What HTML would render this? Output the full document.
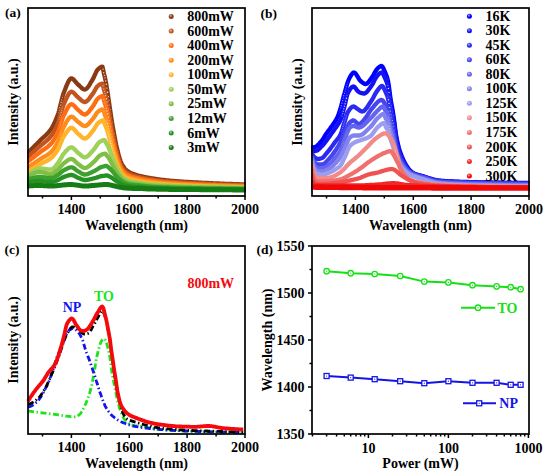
<!DOCTYPE html>
<html><head><meta charset="utf-8"><style>
html,body{margin:0;padding:0;background:#fff;}
svg{display:block;}
text{font-family:'Liberation Serif',serif;font-weight:bold;font-size:14px;fill:#000;}
</style></head><body>
<svg width="550" height="475" viewBox="0 0 550 475">
<defs>

<radialGradient id="g0" cx="0.4" cy="0.35" r="0.65"><stop offset="0" stop-color="#d0b0a0"/><stop offset="0.6" stop-color="#8a3a12"/><stop offset="1" stop-color="#8a3a12"/></radialGradient>
<radialGradient id="g1" cx="0.4" cy="0.35" r="0.65"><stop offset="0" stop-color="#e6baa5"/><stop offset="0.6" stop-color="#c25420"/><stop offset="1" stop-color="#c25420"/></radialGradient>
<radialGradient id="g2" cx="0.4" cy="0.35" r="0.65"><stop offset="0" stop-color="#ffc4a0"/><stop offset="0.6" stop-color="#ff6d12"/><stop offset="1" stop-color="#ff6d12"/></radialGradient>
<radialGradient id="g3" cx="0.4" cy="0.35" r="0.65"><stop offset="0" stop-color="#ffd1a3"/><stop offset="0.6" stop-color="#ff8c1a"/><stop offset="1" stop-color="#ff8c1a"/></radialGradient>
<radialGradient id="g4" cx="0.4" cy="0.35" r="0.65"><stop offset="0" stop-color="#ffe1a9"/><stop offset="0.6" stop-color="#ffb42a"/><stop offset="1" stop-color="#ffb42a"/></radialGradient>
<radialGradient id="g5" cx="0.4" cy="0.35" r="0.65"><stop offset="0" stop-color="#d8ecbd"/><stop offset="0.6" stop-color="#9fd05a"/><stop offset="1" stop-color="#9fd05a"/></radialGradient>
<radialGradient id="g6" cx="0.4" cy="0.35" r="0.65"><stop offset="0" stop-color="#cbe5b4"/><stop offset="0.6" stop-color="#7fbf44"/><stop offset="1" stop-color="#7fbf44"/></radialGradient>
<radialGradient id="g7" cx="0.4" cy="0.35" r="0.65"><stop offset="0" stop-color="#b1d9ab"/><stop offset="0.6" stop-color="#3ea02e"/><stop offset="1" stop-color="#3ea02e"/></radialGradient>
<radialGradient id="g8" cx="0.4" cy="0.35" r="0.65"><stop offset="0" stop-color="#a7d3a6"/><stop offset="0.6" stop-color="#259222"/><stop offset="1" stop-color="#259222"/></radialGradient>
<radialGradient id="g9" cx="0.4" cy="0.35" r="0.65"><stop offset="0" stop-color="#a1caa1"/><stop offset="0.6" stop-color="#167c16"/><stop offset="1" stop-color="#167c16"/></radialGradient>
<radialGradient id="g10" cx="0.4" cy="0.35" r="0.65"><stop offset="0" stop-color="#9999ff"/><stop offset="0.6" stop-color="#0000ff"/><stop offset="1" stop-color="#0000ff"/></radialGradient>
<radialGradient id="g11" cx="0.4" cy="0.35" r="0.65"><stop offset="0" stop-color="#a0a0fa"/><stop offset="0.6" stop-color="#1212f4"/><stop offset="1" stop-color="#1212f4"/></radialGradient>
<radialGradient id="g12" cx="0.4" cy="0.35" r="0.65"><stop offset="0" stop-color="#a9a9f9"/><stop offset="0.6" stop-color="#2a2af2"/><stop offset="1" stop-color="#2a2af2"/></radialGradient>
<radialGradient id="g13" cx="0.4" cy="0.35" r="0.65"><stop offset="0" stop-color="#b4b4f9"/><stop offset="0.6" stop-color="#4545f0"/><stop offset="1" stop-color="#4545f0"/></radialGradient>
<radialGradient id="g14" cx="0.4" cy="0.35" r="0.65"><stop offset="0" stop-color="#c1c1f8"/><stop offset="0.6" stop-color="#6464ee"/><stop offset="1" stop-color="#6464ee"/></radialGradient>
<radialGradient id="g15" cx="0.4" cy="0.35" r="0.65"><stop offset="0" stop-color="#cdcdf8"/><stop offset="0.6" stop-color="#8282ee"/><stop offset="1" stop-color="#8282ee"/></radialGradient>
<radialGradient id="g16" cx="0.4" cy="0.35" r="0.65"><stop offset="0" stop-color="#d7d7f9"/><stop offset="0.6" stop-color="#9c9cf0"/><stop offset="1" stop-color="#9c9cf0"/></radialGradient>
<radialGradient id="g17" cx="0.4" cy="0.35" r="0.65"><stop offset="0" stop-color="#f9d0d0"/><stop offset="0.6" stop-color="#f28a8a"/><stop offset="1" stop-color="#f28a8a"/></radialGradient>
<radialGradient id="g18" cx="0.4" cy="0.35" r="0.65"><stop offset="0" stop-color="#f9c5c5"/><stop offset="0.6" stop-color="#f07070"/><stop offset="1" stop-color="#f07070"/></radialGradient>
<radialGradient id="g19" cx="0.4" cy="0.35" r="0.65"><stop offset="0" stop-color="#f9b9b9"/><stop offset="0.6" stop-color="#f05252"/><stop offset="1" stop-color="#f05252"/></radialGradient>
<radialGradient id="g20" cx="0.4" cy="0.35" r="0.65"><stop offset="0" stop-color="#f9a9a9"/><stop offset="0.6" stop-color="#f02828"/><stop offset="1" stop-color="#f02828"/></radialGradient>
<radialGradient id="g21" cx="0.4" cy="0.35" r="0.65"><stop offset="0" stop-color="#f99c9c"/><stop offset="0.6" stop-color="#f00808"/><stop offset="1" stop-color="#f00808"/></radialGradient>
<clipPath id="ca"><rect x="27" y="8" width="219" height="188"/></clipPath>
<clipPath id="cb"><rect x="311" y="8" width="219" height="188"/></clipPath>
</defs>
<g clip-path="url(#ca)">
<path d="M28.0,152.6L28.7,151.9L29.4,151.2L30.2,150.5L30.9,149.7L31.6,149.0L32.3,148.3L33.1,147.6L33.8,146.8L34.5,146.1L35.2,145.4L36.0,144.7L36.7,143.9L37.4,143.2L38.1,142.5L38.9,141.7L39.6,141.0L40.3,140.3L41.0,139.6L41.7,138.9L42.5,138.2L43.2,137.6L43.9,136.9L44.6,136.3L45.4,135.6L46.1,134.9L46.8,134.2L47.5,133.5L48.3,132.7L49.0,131.8L49.7,130.9L50.4,130.0L51.1,129.0L51.9,127.9L52.6,126.7L53.3,125.3L54.0,123.9L54.8,122.3L55.5,120.7L56.2,118.9L56.9,117.1L57.7,115.2L58.4,113.1L59.1,110.6L59.8,107.8L60.5,104.8L61.3,101.7L62.0,98.8L62.7,96.1L63.4,93.8L64.2,91.8L64.9,90.0L65.6,88.1L66.3,86.2L67.1,84.4L67.8,82.8L68.5,81.4L69.2,80.1L70.0,79.2L70.7,78.6L71.4,78.4L72.1,78.5L72.8,78.9L73.6,79.5L74.3,80.3L75.0,81.1L75.7,82.0L76.5,82.9L77.2,83.7L77.9,84.4L78.6,85.0L79.4,85.7L80.1,86.4L80.8,87.1L81.5,87.8L82.2,88.4L83.0,88.9L83.7,89.3L84.4,89.5L85.1,89.4L85.9,89.2L86.6,88.6L87.3,87.9L88.0,87.0L88.8,85.9L89.5,84.8L90.2,83.6L90.9,82.3L91.7,81.1L92.4,79.9L93.1,78.7L93.8,77.3L94.5,75.7L95.3,74.0L96.0,72.4L96.7,71.0L97.4,69.9L98.2,69.2L98.9,68.5L99.6,67.9L100.3,67.3L101.1,66.9L101.8,66.7L102.5,66.7L103.2,69.9L104.0,73.7L104.7,76.6L105.4,79.7L106.1,83.2L106.8,87.5L107.6,92.3L108.3,97.2L109.0,102.0L109.7,107.0L110.5,112.0L111.2,117.0L111.9,121.6L112.6,126.0L113.4,130.1L114.1,134.0L114.8,137.8L115.5,141.5L116.2,145.0L117.0,148.3L117.7,151.3L118.4,154.1L119.1,156.7L119.9,159.2L120.6,161.3L121.3,162.9L122.0,164.3L122.8,165.6L123.5,166.8L124.2,167.8L124.9,168.8L125.7,169.5L126.4,170.2L127.1,170.7L127.8,171.2L128.5,171.7L129.3,172.1L130.0,172.5L130.7,172.9L131.4,173.2L132.2,173.5L132.9,173.8L133.6,174.1L134.3,174.4L135.1,174.6L135.8,174.8L136.5,175.0L137.2,175.3L137.9,175.5L138.7,175.7L139.4,175.8L140.1,176.0L140.8,176.2L141.6,176.4L142.3,176.5L143.0,176.7L143.7,176.8L144.5,177.0L145.2,177.1L145.9,177.3L146.6,177.4L147.3,177.5L148.1,177.7L148.8,177.8L149.5,177.9L150.2,178.0L151.0,178.2L151.7,178.3L152.4,178.4L153.1,178.5L153.9,178.6L154.6,178.7L155.3,178.9L156.0,179.0L156.8,179.1L157.5,179.2L158.2,179.3L158.9,179.4L159.6,179.5L160.4,179.6L161.1,179.7L161.8,179.8L162.5,179.9L163.3,179.9L164.0,180.0L164.7,180.1L165.4,180.2L166.2,180.3L166.9,180.4L167.6,180.4L168.3,180.5L169.1,180.6L169.8,180.6L170.5,180.7L171.2,180.8L171.9,180.8L172.7,180.9L173.4,181.0L174.1,181.0L174.8,181.1L175.6,181.1L176.3,181.2L177.0,181.2L177.7,181.3L178.5,181.4L179.2,181.4L179.9,181.5L180.6,181.5L181.3,181.6L182.1,181.6L182.8,181.7L183.5,181.7L184.2,181.8L185.0,181.8L185.7,181.8L186.4,181.9L187.1,181.9L187.9,182.0L188.6,182.0L189.3,182.1L190.0,182.1L190.8,182.1L191.5,182.2L192.2,182.2L192.9,182.3L193.6,182.3L194.4,182.3L195.1,182.4L195.8,182.4L196.5,182.5L197.3,182.5L198.0,182.5L198.7,182.6L199.4,182.6L200.2,182.6L200.9,182.7L201.6,182.7L202.3,182.8L203.0,182.8L203.8,182.8L204.5,182.9L205.2,182.9L205.9,182.9L206.7,183.0L207.4,183.0L208.1,183.0L208.8,183.1L209.6,183.1L210.3,183.1L211.0,183.2L211.7,183.2L212.4,183.2L213.2,183.3L213.9,183.3L214.6,183.3L215.3,183.4L216.1,183.4L216.8,183.4L217.5,183.5L218.2,183.5L219.0,183.5L219.7,183.6L220.4,183.6L221.1,183.6L221.9,183.6L222.6,183.7L223.3,183.7L224.0,183.7L224.7,183.8L225.5,183.8L226.2,183.8L226.9,183.8L227.6,183.9L228.4,183.9L229.1,183.9L229.8,184.0L230.5,184.0L231.3,184.0L232.0,184.0L232.7,184.1L233.4,184.1L234.2,184.1L234.9,184.1L235.6,184.1L236.3,184.2L237.0,184.2L237.8,184.2L238.5,184.2L239.2,184.3L239.9,184.3L240.7,184.3L241.4,184.3L242.1,184.3L242.8,184.3L243.6,184.4L244.3,184.4L245.0,184.4" fill="none" stroke="#8a3a12" stroke-width="4.3" stroke-linejoin="round" stroke-linecap="round"/>
<g fill="#fff"><circle cx="56.6" cy="117.9" r="0.70" fill-opacity="0.00"/><circle cx="57.3" cy="116.2" r="0.70" fill-opacity="0.05"/><circle cx="57.9" cy="114.5" r="0.70" fill-opacity="0.09"/><circle cx="58.6" cy="112.5" r="0.70" fill-opacity="0.28"/><circle cx="59.2" cy="110.3" r="0.70" fill-opacity="0.50"/><circle cx="59.8" cy="107.8" r="0.70" fill-opacity="0.66"/><circle cx="60.5" cy="105.1" r="0.70" fill-opacity="0.75"/><circle cx="61.1" cy="102.5" r="0.70" fill-opacity="0.74"/><circle cx="61.7" cy="99.9" r="0.70" fill-opacity="0.64"/><circle cx="62.4" cy="97.4" r="0.70" fill-opacity="0.48"/><circle cx="63.0" cy="95.1" r="0.70" fill-opacity="0.26"/><circle cx="63.6" cy="93.2" r="0.70" fill-opacity="0.05"/><circle cx="64.3" cy="91.5" r="0.70" fill-opacity="0.05"/><circle cx="64.9" cy="89.9" r="0.70" fill-opacity="0.05"/><circle cx="65.6" cy="88.2" r="0.70" fill-opacity="0.04"/><circle cx="66.2" cy="86.6" r="0.70" fill-opacity="0.00"/><circle cx="103.1" cy="69.2" r="0.70" fill-opacity="0.68"/><circle cx="103.7" cy="72.8" r="0.70" fill-opacity="0.78"/><circle cx="104.4" cy="75.5" r="0.70" fill-opacity="0.71"/><circle cx="105.0" cy="78.0" r="0.70" fill-opacity="0.71"/><circle cx="105.7" cy="80.9" r="0.70" fill-opacity="0.88"/><circle cx="106.3" cy="84.2" r="0.70" fill-opacity="0.90"/><circle cx="106.9" cy="88.1" r="0.70" fill-opacity="0.90"/><circle cx="107.6" cy="92.3" r="0.70" fill-opacity="0.90"/><circle cx="108.2" cy="96.6" r="0.70" fill-opacity="0.90"/><circle cx="108.8" cy="100.8" r="0.70" fill-opacity="0.90"/><circle cx="109.5" cy="105.1" r="0.70" fill-opacity="0.90"/><circle cx="110.1" cy="109.6" r="0.70" fill-opacity="0.90"/><circle cx="110.7" cy="114.0" r="0.70" fill-opacity="0.90"/><circle cx="111.4" cy="118.3" r="0.70" fill-opacity="0.90"/><circle cx="112.0" cy="122.3" r="0.70" fill-opacity="0.90"/><circle cx="112.7" cy="126.1" r="0.70" fill-opacity="0.90"/><circle cx="113.3" cy="129.8" r="0.70" fill-opacity="0.90"/><circle cx="113.9" cy="133.3" r="0.70" fill-opacity="0.90"/><circle cx="114.6" cy="136.6" r="0.70" fill-opacity="0.90"/><circle cx="115.2" cy="139.9" r="0.70" fill-opacity="0.90"/><circle cx="115.8" cy="143.0" r="0.70" fill-opacity="0.90"/><circle cx="116.5" cy="146.1" r="0.70" fill-opacity="0.90"/><circle cx="117.1" cy="148.9" r="0.70" fill-opacity="0.72"/><circle cx="117.8" cy="151.5" r="0.70" fill-opacity="0.62"/><circle cx="118.4" cy="154.0" r="0.70" fill-opacity="0.56"/><circle cx="119.0" cy="156.3" r="0.70" fill-opacity="0.44"/><circle cx="119.7" cy="158.5" r="0.70" fill-opacity="0.27"/><circle cx="120.3" cy="160.5" r="0.70" fill-opacity="0.05"/></g>
<path d="M28.0,156.7L28.7,156.1L29.4,155.4L30.2,154.8L30.9,154.2L31.6,153.5L32.3,152.9L33.1,152.3L33.8,151.6L34.5,151.0L35.2,150.4L36.0,149.7L36.7,149.1L37.4,148.4L38.1,147.8L38.9,147.1L39.6,146.5L40.3,145.9L41.0,145.3L41.7,144.7L42.5,144.1L43.2,143.5L43.9,142.9L44.6,142.4L45.4,141.8L46.1,141.2L46.8,140.5L47.5,139.9L48.3,139.2L49.0,138.5L49.7,137.7L50.4,136.9L51.1,136.0L51.9,135.0L52.6,134.0L53.3,132.8L54.0,131.5L54.8,130.2L55.5,128.7L56.2,127.2L56.9,125.6L57.7,123.9L58.4,122.1L59.1,119.9L59.8,117.4L60.5,114.8L61.3,112.1L62.0,109.6L62.7,107.2L63.4,105.1L64.2,103.5L64.9,101.8L65.6,100.2L66.3,98.5L67.1,97.0L67.8,95.6L68.5,94.3L69.2,93.2L70.0,92.4L70.7,91.9L71.4,91.7L72.1,91.8L72.8,92.2L73.6,92.7L74.3,93.4L75.0,94.2L75.7,95.0L76.5,95.8L77.2,96.6L77.9,97.3L78.6,97.8L79.4,98.5L80.1,99.1L80.8,99.8L81.5,100.4L82.2,101.0L83.0,101.5L83.7,101.8L84.4,102.0L85.1,102.0L85.9,101.7L86.6,101.3L87.3,100.7L88.0,100.0L88.8,99.1L89.5,98.2L90.2,97.2L90.9,96.2L91.7,95.3L92.4,94.3L93.1,93.3L93.8,92.2L94.5,90.9L95.3,89.6L96.0,88.3L96.7,87.1L97.4,86.2L98.2,85.7L98.9,85.1L99.6,84.6L100.3,84.2L101.1,83.9L101.8,83.7L102.5,83.7L103.2,86.4L104.0,89.7L104.7,92.2L105.4,94.8L106.1,97.8L106.8,101.5L107.6,105.6L108.3,109.8L109.0,113.9L109.7,118.2L110.5,122.5L111.2,126.7L111.9,130.7L112.6,134.4L113.4,138.0L114.1,141.4L114.8,144.6L115.5,147.7L116.2,150.7L117.0,153.6L117.7,156.1L118.4,158.5L119.1,160.8L119.9,162.9L120.6,164.7L121.3,166.1L122.0,167.3L122.8,168.4L123.5,169.4L124.2,170.3L124.9,171.1L125.7,171.8L126.4,172.3L127.1,172.8L127.8,173.2L128.5,173.6L129.3,174.0L130.0,174.3L130.7,174.6L131.4,174.9L132.2,175.2L132.9,175.4L133.6,175.6L134.3,175.9L135.1,176.1L135.8,176.3L136.5,176.5L137.2,176.7L137.9,176.9L138.7,177.1L139.4,177.2L140.1,177.4L140.8,177.6L141.6,177.7L142.3,177.9L143.0,178.0L143.7,178.2L144.5,178.3L145.2,178.4L145.9,178.6L146.6,178.7L147.3,178.8L148.1,178.9L148.8,179.1L149.5,179.2L150.2,179.3L151.0,179.4L151.7,179.5L152.4,179.6L153.1,179.7L153.9,179.8L154.6,179.9L155.3,180.0L156.0,180.2L156.8,180.3L157.5,180.3L158.2,180.4L158.9,180.5L159.6,180.6L160.4,180.7L161.1,180.8L161.8,180.9L162.5,181.0L163.3,181.1L164.0,181.1L164.7,181.2L165.4,181.3L166.2,181.4L166.9,181.4L167.6,181.5L168.3,181.6L169.1,181.6L169.8,181.7L170.5,181.8L171.2,181.8L171.9,181.9L172.7,181.9L173.4,182.0L174.1,182.1L174.8,182.1L175.6,182.2L176.3,182.2L177.0,182.3L177.7,182.3L178.5,182.4L179.2,182.4L179.9,182.5L180.6,182.5L181.3,182.6L182.1,182.6L182.8,182.6L183.5,182.7L184.2,182.7L185.0,182.8L185.7,182.8L186.4,182.9L187.1,182.9L187.9,182.9L188.6,183.0L189.3,183.0L190.0,183.1L190.8,183.1L191.5,183.1L192.2,183.2L192.9,183.2L193.6,183.3L194.4,183.3L195.1,183.3L195.8,183.4L196.5,183.4L197.3,183.4L198.0,183.5L198.7,183.5L199.4,183.5L200.2,183.6L200.9,183.6L201.6,183.6L202.3,183.7L203.0,183.7L203.8,183.7L204.5,183.8L205.2,183.8L205.9,183.8L206.7,183.9L207.4,183.9L208.1,183.9L208.8,184.0L209.6,184.0L210.3,184.0L211.0,184.1L211.7,184.1L212.4,184.1L213.2,184.2L213.9,184.2L214.6,184.2L215.3,184.2L216.1,184.3L216.8,184.3L217.5,184.3L218.2,184.4L219.0,184.4L219.7,184.4L220.4,184.4L221.1,184.5L221.9,184.5L222.6,184.5L223.3,184.6L224.0,184.6L224.7,184.6L225.5,184.6L226.2,184.7L226.9,184.7L227.6,184.7L228.4,184.7L229.1,184.8L229.8,184.8L230.5,184.8L231.3,184.8L232.0,184.9L232.7,184.9L233.4,184.9L234.2,184.9L234.9,184.9L235.6,185.0L236.3,185.0L237.0,185.0L237.8,185.0L238.5,185.0L239.2,185.1L239.9,185.1L240.7,185.1L241.4,185.1L242.1,185.1L242.8,185.2L243.6,185.2L244.3,185.2L245.0,185.2" fill="none" stroke="#c25420" stroke-width="4.3" stroke-linejoin="round" stroke-linecap="round"/>
<g fill="#fff"><circle cx="58.6" cy="121.6" r="0.70" fill-opacity="0.11"/><circle cx="59.2" cy="119.6" r="0.70" fill-opacity="0.30"/><circle cx="59.8" cy="117.4" r="0.70" fill-opacity="0.43"/><circle cx="60.5" cy="115.1" r="0.70" fill-opacity="0.51"/><circle cx="61.1" cy="112.8" r="0.70" fill-opacity="0.51"/><circle cx="61.7" cy="110.5" r="0.70" fill-opacity="0.42"/><circle cx="62.4" cy="108.3" r="0.70" fill-opacity="0.28"/><circle cx="63.0" cy="106.3" r="0.70" fill-opacity="0.09"/><circle cx="103.1" cy="85.8" r="0.70" fill-opacity="0.42"/><circle cx="103.7" cy="88.9" r="0.70" fill-opacity="0.51"/><circle cx="104.4" cy="91.2" r="0.70" fill-opacity="0.44"/><circle cx="105.0" cy="93.4" r="0.70" fill-opacity="0.44"/><circle cx="105.7" cy="95.8" r="0.70" fill-opacity="0.59"/><circle cx="106.3" cy="98.7" r="0.70" fill-opacity="0.90"/><circle cx="106.9" cy="102.0" r="0.70" fill-opacity="0.90"/><circle cx="107.6" cy="105.6" r="0.70" fill-opacity="0.90"/><circle cx="108.2" cy="109.3" r="0.70" fill-opacity="0.90"/><circle cx="108.8" cy="112.9" r="0.70" fill-opacity="0.90"/><circle cx="109.5" cy="116.6" r="0.70" fill-opacity="0.90"/><circle cx="110.1" cy="120.4" r="0.70" fill-opacity="0.90"/><circle cx="110.7" cy="124.2" r="0.70" fill-opacity="0.90"/><circle cx="111.4" cy="127.9" r="0.70" fill-opacity="0.90"/><circle cx="112.0" cy="131.3" r="0.70" fill-opacity="0.90"/><circle cx="112.7" cy="134.6" r="0.70" fill-opacity="0.90"/><circle cx="113.3" cy="137.7" r="0.70" fill-opacity="0.90"/><circle cx="113.9" cy="140.7" r="0.70" fill-opacity="0.90"/><circle cx="114.6" cy="143.6" r="0.70" fill-opacity="0.86"/><circle cx="115.2" cy="146.3" r="0.70" fill-opacity="0.82"/><circle cx="115.8" cy="149.1" r="0.70" fill-opacity="0.74"/><circle cx="116.5" cy="151.7" r="0.70" fill-opacity="0.62"/><circle cx="117.1" cy="154.1" r="0.70" fill-opacity="0.45"/><circle cx="117.8" cy="156.3" r="0.70" fill-opacity="0.36"/><circle cx="118.4" cy="158.4" r="0.70" fill-opacity="0.31"/><circle cx="119.0" cy="160.4" r="0.70" fill-opacity="0.22"/><circle cx="119.7" cy="162.3" r="0.70" fill-opacity="0.07"/></g>
<path d="M28.0,161.5L28.7,160.9L29.4,160.4L30.2,159.8L30.9,159.2L31.6,158.7L32.3,158.1L33.1,157.6L33.8,157.0L34.5,156.4L35.2,155.9L36.0,155.3L36.7,154.8L37.4,154.2L38.1,153.6L38.9,153.1L39.6,152.5L40.3,152.0L41.0,151.4L41.7,150.9L42.5,150.4L43.2,149.9L43.9,149.4L44.6,149.0L45.4,148.5L46.1,147.9L46.8,147.4L47.5,146.9L48.3,146.3L49.0,145.6L49.7,145.0L50.4,144.3L51.1,143.5L51.9,142.7L52.6,141.7L53.3,140.7L54.0,139.6L54.8,138.3L55.5,137.1L56.2,135.7L56.9,134.3L57.7,132.8L58.4,131.2L59.1,129.2L59.8,127.0L60.5,124.7L61.3,122.3L62.0,120.1L62.7,118.0L63.4,116.1L64.2,114.6L64.9,113.2L65.6,111.7L66.3,110.3L67.1,108.9L67.8,107.6L68.5,106.5L69.2,105.5L70.0,104.8L70.7,104.4L71.4,104.2L72.1,104.3L72.8,104.7L73.6,105.2L74.3,105.9L75.0,106.7L75.7,107.5L76.5,108.3L77.2,109.1L77.9,109.8L78.6,110.3L79.4,111.0L80.1,111.6L80.8,112.3L81.5,112.9L82.2,113.5L83.0,114.0L83.7,114.3L84.4,114.5L85.1,114.5L85.9,114.2L86.6,113.8L87.3,113.2L88.0,112.5L88.8,111.7L89.5,110.8L90.2,109.9L90.9,108.9L91.7,107.9L92.4,107.0L93.1,106.0L93.8,105.0L94.5,103.7L95.3,102.4L96.0,101.1L96.7,99.9L97.4,99.0L98.2,98.3L98.9,97.8L99.6,97.3L100.3,96.8L101.1,96.5L101.8,96.2L102.5,96.1L103.2,97.4L104.0,100.5L104.7,102.8L105.4,105.0L106.1,107.5L106.8,110.5L107.6,114.0L108.3,117.7L109.0,121.3L109.7,125.0L110.5,128.8L111.2,132.6L111.9,136.2L112.6,139.6L113.4,142.8L114.1,145.8L114.8,148.7L115.5,151.5L116.2,154.2L117.0,156.8L117.7,159.1L118.4,161.3L119.1,163.3L119.9,165.2L120.6,166.9L121.3,168.3L122.0,169.4L122.8,170.4L123.5,171.4L124.2,172.2L124.9,172.9L125.7,173.5L126.4,174.1L127.1,174.5L127.8,174.9L128.5,175.2L129.3,175.6L130.0,175.9L130.7,176.2L131.4,176.4L132.2,176.7L132.9,176.9L133.6,177.1L134.3,177.3L135.1,177.5L135.8,177.7L136.5,177.9L137.2,178.1L137.9,178.2L138.7,178.4L139.4,178.6L140.1,178.7L140.8,178.9L141.6,179.0L142.3,179.2L143.0,179.3L143.7,179.4L144.5,179.6L145.2,179.7L145.9,179.8L146.6,179.9L147.3,180.1L148.1,180.2L148.8,180.3L149.5,180.4L150.2,180.5L151.0,180.6L151.7,180.7L152.4,180.8L153.1,180.9L153.9,181.0L154.6,181.1L155.3,181.2L156.0,181.3L156.8,181.4L157.5,181.5L158.2,181.6L158.9,181.6L159.6,181.7L160.4,181.8L161.1,181.9L161.8,182.0L162.5,182.0L163.3,182.1L164.0,182.2L164.7,182.3L165.4,182.3L166.2,182.4L166.9,182.5L167.6,182.5L168.3,182.6L169.1,182.7L169.8,182.7L170.5,182.8L171.2,182.8L171.9,182.9L172.7,182.9L173.4,183.0L174.1,183.0L174.8,183.1L175.6,183.1L176.3,183.2L177.0,183.2L177.7,183.3L178.5,183.3L179.2,183.4L179.9,183.4L180.6,183.4L181.3,183.5L182.1,183.5L182.8,183.6L183.5,183.6L184.2,183.7L185.0,183.7L185.7,183.7L186.4,183.8L187.1,183.8L187.9,183.8L188.6,183.9L189.3,183.9L190.0,184.0L190.8,184.0L191.5,184.0L192.2,184.1L192.9,184.1L193.6,184.1L194.4,184.2L195.1,184.2L195.8,184.2L196.5,184.3L197.3,184.3L198.0,184.3L198.7,184.4L199.4,184.4L200.2,184.4L200.9,184.4L201.6,184.5L202.3,184.5L203.0,184.5L203.8,184.6L204.5,184.6L205.2,184.6L205.9,184.7L206.7,184.7L207.4,184.7L208.1,184.7L208.8,184.8L209.6,184.8L210.3,184.8L211.0,184.9L211.7,184.9L212.4,184.9L213.2,184.9L213.9,185.0L214.6,185.0L215.3,185.0L216.1,185.1L216.8,185.1L217.5,185.1L218.2,185.1L219.0,185.2L219.7,185.2L220.4,185.2L221.1,185.2L221.9,185.3L222.6,185.3L223.3,185.3L224.0,185.3L224.7,185.4L225.5,185.4L226.2,185.4L226.9,185.4L227.6,185.5L228.4,185.5L229.1,185.5L229.8,185.5L230.5,185.5L231.3,185.6L232.0,185.6L232.7,185.6L233.4,185.6L234.2,185.6L234.9,185.7L235.6,185.7L236.3,185.7L237.0,185.7L237.8,185.7L238.5,185.8L239.2,185.8L239.9,185.8L240.7,185.8L241.4,185.8L242.1,185.8L242.8,185.9L243.6,185.9L244.3,185.9L245.0,185.9" fill="none" stroke="#ff6d12" stroke-width="4.3" stroke-linejoin="round" stroke-linecap="round"/>
<g fill="#fff"><circle cx="59.2" cy="128.9" r="0.70" fill-opacity="0.14"/><circle cx="59.8" cy="127.0" r="0.70" fill-opacity="0.26"/><circle cx="60.5" cy="125.0" r="0.70" fill-opacity="0.33"/><circle cx="61.1" cy="122.9" r="0.70" fill-opacity="0.32"/><circle cx="61.7" cy="120.9" r="0.70" fill-opacity="0.25"/><circle cx="62.4" cy="118.9" r="0.70" fill-opacity="0.12"/><circle cx="103.7" cy="99.6" r="0.70" fill-opacity="0.51"/><circle cx="104.4" cy="101.9" r="0.70" fill-opacity="0.25"/><circle cx="105.0" cy="103.8" r="0.70" fill-opacity="0.25"/><circle cx="105.7" cy="105.9" r="0.70" fill-opacity="0.30"/><circle cx="106.3" cy="108.2" r="0.70" fill-opacity="0.53"/><circle cx="106.9" cy="110.9" r="0.70" fill-opacity="0.85"/><circle cx="107.6" cy="114.0" r="0.70" fill-opacity="0.90"/><circle cx="108.2" cy="117.2" r="0.70" fill-opacity="0.90"/><circle cx="108.8" cy="120.5" r="0.70" fill-opacity="0.90"/><circle cx="109.5" cy="123.7" r="0.70" fill-opacity="0.90"/><circle cx="110.1" cy="127.0" r="0.70" fill-opacity="0.90"/><circle cx="110.7" cy="130.4" r="0.70" fill-opacity="0.90"/><circle cx="111.4" cy="133.7" r="0.70" fill-opacity="0.90"/><circle cx="112.0" cy="136.8" r="0.70" fill-opacity="0.90"/><circle cx="112.7" cy="139.7" r="0.70" fill-opacity="0.88"/><circle cx="113.3" cy="142.5" r="0.70" fill-opacity="0.80"/><circle cx="113.9" cy="145.2" r="0.70" fill-opacity="0.72"/><circle cx="114.6" cy="147.8" r="0.70" fill-opacity="0.64"/><circle cx="115.2" cy="150.3" r="0.70" fill-opacity="0.60"/><circle cx="115.8" cy="152.7" r="0.70" fill-opacity="0.55"/><circle cx="116.5" cy="155.0" r="0.70" fill-opacity="0.46"/><circle cx="117.1" cy="157.3" r="0.70" fill-opacity="0.33"/><circle cx="117.8" cy="159.3" r="0.70" fill-opacity="0.20"/><circle cx="118.4" cy="161.2" r="0.70" fill-opacity="0.17"/><circle cx="119.0" cy="163.0" r="0.70" fill-opacity="0.10"/></g>
<path d="M28.0,167.5L28.7,167.0L29.4,166.5L30.2,166.0L30.9,165.5L31.6,164.9L32.3,164.4L33.1,163.9L33.8,163.4L34.5,162.9L35.2,162.4L36.0,161.9L36.7,161.5L37.4,161.0L38.1,160.5L38.9,160.0L39.6,159.5L40.3,159.0L41.0,158.6L41.7,158.2L42.5,157.7L43.2,157.3L43.9,156.9L44.6,156.5L45.4,156.1L46.1,155.7L46.8,155.3L47.5,154.8L48.3,154.3L49.0,153.8L49.7,153.3L50.4,152.7L51.1,152.0L51.9,151.3L52.6,150.4L53.3,149.5L54.0,148.5L54.8,147.4L55.5,146.2L56.2,145.0L56.9,143.7L57.7,142.4L58.4,140.9L59.1,139.2L59.8,137.2L60.5,135.1L61.3,133.0L62.0,130.9L62.7,129.1L63.4,127.4L64.2,126.1L64.9,124.8L65.6,123.4L66.3,122.1L67.1,120.9L67.8,119.8L68.5,118.8L69.2,117.9L70.0,117.3L70.7,116.8L71.4,116.7L72.1,116.8L72.8,117.1L73.6,117.6L74.3,118.3L75.0,119.0L75.7,119.7L76.5,120.4L77.2,121.1L77.9,121.7L78.6,122.2L79.4,122.8L80.1,123.4L80.8,124.0L81.5,124.6L82.2,125.1L83.0,125.5L83.7,125.8L84.4,126.0L85.1,126.0L85.9,125.8L86.6,125.4L87.3,124.9L88.0,124.3L88.8,123.6L89.5,122.8L90.2,121.9L90.9,121.1L91.7,120.2L92.4,119.4L93.1,118.5L93.8,117.6L94.5,116.5L95.3,115.4L96.0,114.2L96.7,113.1L97.4,112.2L98.2,111.6L98.9,111.1L99.6,110.6L100.3,110.2L101.1,109.8L101.8,109.6L102.5,109.4L103.2,109.7L104.0,112.1L104.7,114.4L105.4,116.3L106.1,118.2L106.8,120.6L107.6,123.5L108.3,126.6L109.0,129.7L109.7,132.8L110.5,136.1L111.2,139.3L111.9,142.5L112.6,145.5L113.4,148.2L114.1,150.9L114.8,153.4L115.5,155.8L116.2,158.2L117.0,160.4L117.7,162.5L118.4,164.4L119.1,166.2L119.9,167.9L120.6,169.4L121.3,170.7L122.0,171.7L122.8,172.6L123.5,173.4L124.2,174.2L124.9,174.8L125.7,175.4L126.4,175.9L127.1,176.3L127.8,176.6L128.5,177.0L129.3,177.2L130.0,177.5L130.7,177.8L131.4,178.0L132.2,178.2L132.9,178.4L133.6,178.6L134.3,178.8L135.1,178.9L135.8,179.1L136.5,179.3L137.2,179.4L137.9,179.6L138.7,179.8L139.4,179.9L140.1,180.0L140.8,180.2L141.6,180.3L142.3,180.5L143.0,180.6L143.7,180.7L144.5,180.8L145.2,181.0L145.9,181.1L146.6,181.2L147.3,181.3L148.1,181.4L148.8,181.5L149.5,181.6L150.2,181.7L151.0,181.8L151.7,181.9L152.4,182.0L153.1,182.0L153.9,182.1L154.6,182.2L155.3,182.3L156.0,182.4L156.8,182.5L157.5,182.6L158.2,182.6L158.9,182.7L159.6,182.8L160.4,182.9L161.1,182.9L161.8,183.0L162.5,183.1L163.3,183.1L164.0,183.2L164.7,183.3L165.4,183.3L166.2,183.4L166.9,183.4L167.6,183.5L168.3,183.5L169.1,183.6L169.8,183.7L170.5,183.7L171.2,183.7L171.9,183.8L172.7,183.8L173.4,183.9L174.1,183.9L174.8,184.0L175.6,184.0L176.3,184.1L177.0,184.1L177.7,184.1L178.5,184.2L179.2,184.2L179.9,184.3L180.6,184.3L181.3,184.3L182.1,184.4L182.8,184.4L183.5,184.5L184.2,184.5L185.0,184.5L185.7,184.6L186.4,184.6L187.1,184.6L187.9,184.7L188.6,184.7L189.3,184.7L190.0,184.8L190.8,184.8L191.5,184.8L192.2,184.9L192.9,184.9L193.6,184.9L194.4,184.9L195.1,185.0L195.8,185.0L196.5,185.0L197.3,185.1L198.0,185.1L198.7,185.1L199.4,185.1L200.2,185.2L200.9,185.2L201.6,185.2L202.3,185.3L203.0,185.3L203.8,185.3L204.5,185.3L205.2,185.4L205.9,185.4L206.7,185.4L207.4,185.4L208.1,185.5L208.8,185.5L209.6,185.5L210.3,185.5L211.0,185.6L211.7,185.6L212.4,185.6L213.2,185.6L213.9,185.7L214.6,185.7L215.3,185.7L216.1,185.7L216.8,185.8L217.5,185.8L218.2,185.8L219.0,185.8L219.7,185.9L220.4,185.9L221.1,185.9L221.9,185.9L222.6,186.0L223.3,186.0L224.0,186.0L224.7,186.0L225.5,186.0L226.2,186.1L226.9,186.1L227.6,186.1L228.4,186.1L229.1,186.1L229.8,186.2L230.5,186.2L231.3,186.2L232.0,186.2L232.7,186.2L233.4,186.3L234.2,186.3L234.9,186.3L235.6,186.3L236.3,186.3L237.0,186.3L237.8,186.4L238.5,186.4L239.2,186.4L239.9,186.4L240.7,186.4L241.4,186.4L242.1,186.4L242.8,186.5L243.6,186.5L244.3,186.5L245.0,186.5" fill="none" stroke="#ff8c1a" stroke-width="4.3" stroke-linejoin="round" stroke-linecap="round"/>
<g fill="#fff"><circle cx="59.2" cy="138.9" r="0.70" fill-opacity="0.01"/><circle cx="59.8" cy="137.2" r="0.70" fill-opacity="0.12"/><circle cx="60.5" cy="135.3" r="0.70" fill-opacity="0.18"/><circle cx="61.1" cy="133.5" r="0.70" fill-opacity="0.17"/><circle cx="61.7" cy="131.7" r="0.70" fill-opacity="0.11"/><circle cx="103.7" cy="111.3" r="0.70" fill-opacity="0.15"/><circle cx="104.4" cy="113.6" r="0.70" fill-opacity="0.09"/><circle cx="105.0" cy="115.3" r="0.70" fill-opacity="0.06"/><circle cx="105.7" cy="116.9" r="0.70" fill-opacity="0.06"/><circle cx="106.3" cy="118.8" r="0.70" fill-opacity="0.18"/><circle cx="106.9" cy="121.0" r="0.70" fill-opacity="0.44"/><circle cx="107.6" cy="123.5" r="0.70" fill-opacity="0.67"/><circle cx="108.2" cy="126.2" r="0.70" fill-opacity="0.82"/><circle cx="108.8" cy="129.0" r="0.70" fill-opacity="0.83"/><circle cx="109.5" cy="131.7" r="0.70" fill-opacity="0.83"/><circle cx="110.1" cy="134.5" r="0.70" fill-opacity="0.88"/><circle cx="110.7" cy="137.4" r="0.70" fill-opacity="0.90"/><circle cx="111.4" cy="140.3" r="0.70" fill-opacity="0.85"/><circle cx="112.0" cy="143.0" r="0.70" fill-opacity="0.71"/><circle cx="112.7" cy="145.6" r="0.70" fill-opacity="0.61"/><circle cx="113.3" cy="148.0" r="0.70" fill-opacity="0.55"/><circle cx="113.9" cy="150.4" r="0.70" fill-opacity="0.48"/><circle cx="114.6" cy="152.6" r="0.70" fill-opacity="0.41"/><circle cx="115.2" cy="154.8" r="0.70" fill-opacity="0.36"/><circle cx="115.8" cy="156.8" r="0.70" fill-opacity="0.33"/><circle cx="116.5" cy="158.9" r="0.70" fill-opacity="0.27"/><circle cx="117.1" cy="160.8" r="0.70" fill-opacity="0.17"/><circle cx="117.8" cy="162.7" r="0.70" fill-opacity="0.05"/></g>
<path d="M28.0,171.5L28.7,171.0L29.4,170.6L30.2,170.1L30.9,169.7L31.6,169.3L32.3,168.8L33.1,168.4L33.8,167.9L34.5,167.5L35.2,167.1L36.0,166.6L36.7,166.2L37.4,165.8L38.1,165.3L38.9,164.9L39.6,164.5L40.3,164.1L41.0,163.7L41.7,163.3L42.5,163.0L43.2,162.6L43.9,162.3L44.6,161.9L45.4,161.6L46.1,161.2L46.8,160.8L47.5,160.4L48.3,160.0L49.0,159.6L49.7,159.1L50.4,158.6L51.1,158.0L51.9,157.4L52.6,156.7L53.3,155.9L54.0,155.0L54.8,154.1L55.5,153.1L56.2,152.0L56.9,150.9L57.7,149.8L58.4,148.5L59.1,147.0L59.8,145.3L60.5,143.5L61.3,141.7L62.0,140.0L62.7,138.4L63.4,137.0L64.2,135.8L64.9,134.7L65.6,133.6L66.3,132.5L67.1,131.4L67.8,130.4L68.5,129.6L69.2,128.8L70.0,128.3L70.7,127.9L71.4,127.8L72.1,127.9L72.8,128.3L73.6,128.9L74.3,129.6L75.0,130.4L75.7,131.3L76.5,132.1L77.2,132.9L77.9,133.6L78.6,134.2L79.4,134.8L80.1,135.5L80.8,136.2L81.5,136.9L82.2,137.5L83.0,138.0L83.7,138.3L84.4,138.5L85.1,138.5L85.9,138.3L86.6,137.9L87.3,137.3L88.0,136.7L88.8,135.9L89.5,135.1L90.2,134.2L90.9,133.3L91.7,132.3L92.4,131.4L93.1,130.5L93.8,129.6L94.5,128.5L95.3,127.2L96.0,126.0L96.7,124.8L97.4,123.8L98.2,123.0L98.9,122.4L99.6,121.9L100.3,121.4L101.1,121.0L101.8,120.7L102.5,120.5L103.2,120.4L104.0,121.8L104.7,124.0L105.4,125.7L106.1,127.3L106.8,129.2L107.6,131.5L108.3,134.2L109.0,136.9L109.7,139.6L110.5,142.3L111.2,145.1L111.9,147.9L112.6,150.6L113.4,153.0L114.1,155.3L114.8,157.5L115.5,159.7L116.2,161.7L117.0,163.7L117.7,165.6L118.4,167.3L119.1,168.8L119.9,170.3L120.6,171.7L121.3,172.9L122.0,173.9L122.8,174.7L123.5,175.4L124.2,176.1L124.9,176.7L125.7,177.2L126.4,177.7L127.1,178.0L127.8,178.3L128.5,178.6L129.3,178.9L130.0,179.1L130.7,179.3L131.4,179.5L132.2,179.7L132.9,179.9L133.6,180.1L134.3,180.2L135.1,180.4L135.8,180.5L136.5,180.7L137.2,180.8L137.9,181.0L138.7,181.1L139.4,181.3L140.1,181.4L140.8,181.5L141.6,181.6L142.3,181.8L143.0,181.9L143.7,182.0L144.5,182.1L145.2,182.2L145.9,182.3L146.6,182.4L147.3,182.5L148.1,182.6L148.8,182.7L149.5,182.8L150.2,182.9L151.0,183.0L151.7,183.1L152.4,183.1L153.1,183.2L153.9,183.3L154.6,183.4L155.3,183.5L156.0,183.5L156.8,183.6L157.5,183.7L158.2,183.7L158.9,183.8L159.6,183.9L160.4,183.9L161.1,184.0L161.8,184.1L162.5,184.1L163.3,184.2L164.0,184.2L164.7,184.3L165.4,184.4L166.2,184.4L166.9,184.5L167.6,184.5L168.3,184.6L169.1,184.6L169.8,184.7L170.5,184.7L171.2,184.7L171.9,184.8L172.7,184.8L173.4,184.9L174.1,184.9L174.8,184.9L175.6,185.0L176.3,185.0L177.0,185.1L177.7,185.1L178.5,185.1L179.2,185.2L179.9,185.2L180.6,185.2L181.3,185.3L182.1,185.3L182.8,185.3L183.5,185.4L184.2,185.4L185.0,185.4L185.7,185.5L186.4,185.5L187.1,185.5L187.9,185.6L188.6,185.6L189.3,185.6L190.0,185.6L190.8,185.7L191.5,185.7L192.2,185.7L192.9,185.8L193.6,185.8L194.4,185.8L195.1,185.8L195.8,185.9L196.5,185.9L197.3,185.9L198.0,185.9L198.7,186.0L199.4,186.0L200.2,186.0L200.9,186.0L201.6,186.1L202.3,186.1L203.0,186.1L203.8,186.1L204.5,186.2L205.2,186.2L205.9,186.2L206.7,186.2L207.4,186.3L208.1,186.3L208.8,186.3L209.6,186.3L210.3,186.3L211.0,186.4L211.7,186.4L212.4,186.4L213.2,186.4L213.9,186.5L214.6,186.5L215.3,186.5L216.1,186.5L216.8,186.5L217.5,186.6L218.2,186.6L219.0,186.6L219.7,186.6L220.4,186.7L221.1,186.7L221.9,186.7L222.6,186.7L223.3,186.7L224.0,186.7L224.7,186.8L225.5,186.8L226.2,186.8L226.9,186.8L227.6,186.8L228.4,186.9L229.1,186.9L229.8,186.9L230.5,186.9L231.3,186.9L232.0,186.9L232.7,187.0L233.4,187.0L234.2,187.0L234.9,187.0L235.6,187.0L236.3,187.0L237.0,187.1L237.8,187.1L238.5,187.1L239.2,187.1L239.9,187.1L240.7,187.1L241.4,187.1L242.1,187.2L242.8,187.2L243.6,187.2L244.3,187.2L245.0,187.2" fill="none" stroke="#ffb42a" stroke-width="4.3" stroke-linejoin="round" stroke-linecap="round"/>
<g fill="#fff"><circle cx="104.4" cy="123.2" r="0.70" fill-opacity="0.05"/><circle cx="106.9" cy="129.5" r="0.70" fill-opacity="0.12"/><circle cx="107.6" cy="131.5" r="0.70" fill-opacity="0.34"/><circle cx="108.2" cy="133.8" r="0.70" fill-opacity="0.50"/><circle cx="108.8" cy="136.2" r="0.70" fill-opacity="0.58"/><circle cx="109.5" cy="138.6" r="0.70" fill-opacity="0.57"/><circle cx="110.1" cy="141.0" r="0.70" fill-opacity="0.57"/><circle cx="110.7" cy="143.4" r="0.70" fill-opacity="0.63"/><circle cx="111.4" cy="145.9" r="0.70" fill-opacity="0.61"/><circle cx="112.0" cy="148.4" r="0.70" fill-opacity="0.51"/><circle cx="112.7" cy="150.7" r="0.70" fill-opacity="0.40"/><circle cx="113.3" cy="152.8" r="0.70" fill-opacity="0.34"/><circle cx="113.9" cy="154.9" r="0.70" fill-opacity="0.28"/><circle cx="114.6" cy="156.8" r="0.70" fill-opacity="0.23"/><circle cx="115.2" cy="158.7" r="0.70" fill-opacity="0.17"/><circle cx="115.8" cy="160.6" r="0.70" fill-opacity="0.15"/><circle cx="116.5" cy="162.3" r="0.70" fill-opacity="0.11"/><circle cx="117.1" cy="164.1" r="0.70" fill-opacity="0.04"/></g>
<path d="M28.0,175.5L28.7,174.8L29.4,174.1L30.2,173.5L30.9,172.9L31.6,172.3L32.3,171.7L33.1,171.1L33.8,170.6L34.5,170.2L35.2,169.7L36.0,169.4L36.7,169.1L37.4,168.8L38.1,168.7L38.9,168.5L39.6,168.5L40.3,168.5L41.0,168.5L41.7,168.6L42.5,168.7L43.2,168.7L43.9,168.8L44.6,168.9L45.4,169.0L46.1,169.1L46.8,169.2L47.5,169.3L48.3,169.3L49.0,169.4L49.7,169.5L50.4,169.5L51.1,169.5L51.9,169.4L52.6,169.0L53.3,168.5L54.0,167.8L54.8,167.1L55.5,166.2L56.2,165.3L56.9,164.4L57.7,163.5L58.4,162.5L59.1,161.4L59.8,160.2L60.5,158.9L61.3,157.5L62.0,156.3L62.7,155.1L63.4,154.0L64.2,153.2L64.9,152.4L65.6,151.5L66.3,150.7L67.1,149.9L67.8,149.2L68.5,148.6L69.2,148.1L70.0,147.7L70.7,147.4L71.4,147.3L72.1,147.4L72.8,147.8L73.6,148.3L74.3,149.0L75.0,149.7L75.7,150.5L76.5,151.3L77.2,152.1L77.9,152.7L78.6,153.3L79.4,153.9L80.1,154.5L80.8,155.2L81.5,155.8L82.2,156.3L83.0,156.8L83.7,157.1L84.4,157.3L85.1,157.3L85.9,157.1L86.6,156.8L87.3,156.3L88.0,155.8L88.8,155.1L89.5,154.4L90.2,153.6L90.9,152.8L91.7,152.0L92.4,151.1L93.1,150.3L93.8,149.5L94.5,148.7L95.3,147.6L96.0,146.5L96.7,145.4L97.4,144.3L98.2,143.4L98.9,142.6L99.6,142.1L100.3,141.6L101.1,141.2L101.8,140.8L102.5,140.4L103.2,140.2L104.0,140.0L104.7,140.2L105.4,141.6L106.1,143.0L106.8,144.2L107.6,145.4L108.3,146.9L109.0,148.6L109.7,150.5L110.5,152.4L111.2,154.3L111.9,156.3L112.6,158.3L113.4,160.2L114.1,162.0L114.8,163.7L115.5,165.3L116.2,166.9L117.0,168.3L117.7,169.8L118.4,171.2L119.1,172.4L119.9,173.6L120.6,174.7L121.3,175.7L122.0,176.6L122.8,177.4L123.5,178.1L124.2,178.6L124.9,179.1L125.7,179.6L126.4,180.0L127.1,180.3L127.8,180.6L128.5,180.8L129.3,181.1L130.0,181.2L130.7,181.4L131.4,181.6L132.2,181.7L132.9,181.9L133.6,182.0L134.3,182.1L135.1,182.2L135.8,182.3L136.5,182.5L137.2,182.6L137.9,182.7L138.7,182.8L139.4,182.9L140.1,183.0L140.8,183.1L141.6,183.3L142.3,183.4L143.0,183.5L143.7,183.6L144.5,183.7L145.2,183.8L145.9,183.9L146.6,183.9L147.3,184.0L148.1,184.1L148.8,184.2L149.5,184.3L150.2,184.3L151.0,184.4L151.7,184.5L152.4,184.5L153.1,184.6L153.9,184.6L154.6,184.7L155.3,184.8L156.0,184.8L156.8,184.9L157.5,184.9L158.2,185.0L158.9,185.0L159.6,185.1L160.4,185.1L161.1,185.2L161.8,185.2L162.5,185.3L163.3,185.3L164.0,185.4L164.7,185.4L165.4,185.4L166.2,185.5L166.9,185.5L167.6,185.6L168.3,185.6L169.1,185.6L169.8,185.7L170.5,185.7L171.2,185.7L171.9,185.8L172.7,185.8L173.4,185.8L174.1,185.9L174.8,185.9L175.6,185.9L176.3,185.9L177.0,186.0L177.7,186.0L178.5,186.0L179.2,186.1L179.9,186.1L180.6,186.1L181.3,186.1L182.1,186.2L182.8,186.2L183.5,186.2L184.2,186.2L185.0,186.3L185.7,186.3L186.4,186.3L187.1,186.3L187.9,186.4L188.6,186.4L189.3,186.4L190.0,186.4L190.8,186.4L191.5,186.5L192.2,186.5L192.9,186.5L193.6,186.5L194.4,186.5L195.1,186.6L195.8,186.6L196.5,186.6L197.3,186.6L198.0,186.6L198.7,186.7L199.4,186.7L200.2,186.7L200.9,186.7L201.6,186.7L202.3,186.8L203.0,186.8L203.8,186.8L204.5,186.8L205.2,186.8L205.9,186.8L206.7,186.9L207.4,186.9L208.1,186.9L208.8,186.9L209.6,186.9L210.3,187.0L211.0,187.0L211.7,187.0L212.4,187.0L213.2,187.0L213.9,187.0L214.6,187.1L215.3,187.1L216.1,187.1L216.8,187.1L217.5,187.1L218.2,187.1L219.0,187.1L219.7,187.2L220.4,187.2L221.1,187.2L221.9,187.2L222.6,187.2L223.3,187.2L224.0,187.3L224.7,187.3L225.5,187.3L226.2,187.3L226.9,187.3L227.6,187.3L228.4,187.3L229.1,187.4L229.8,187.4L230.5,187.4L231.3,187.4L232.0,187.4L232.7,187.4L233.4,187.4L234.2,187.4L234.9,187.5L235.6,187.5L236.3,187.5L237.0,187.5L237.8,187.5L238.5,187.5L239.2,187.5L239.9,187.5L240.7,187.5L241.4,187.6L242.1,187.6L242.8,187.6L243.6,187.6L244.3,187.6L245.0,187.6" fill="none" stroke="#9fd05a" stroke-width="4.3" stroke-linejoin="round" stroke-linecap="round"/>
<g fill="#fff"><circle cx="109.5" cy="149.8" r="0.70" fill-opacity="0.04"/><circle cx="110.1" cy="151.5" r="0.70" fill-opacity="0.07"/><circle cx="110.7" cy="153.2" r="0.70" fill-opacity="0.07"/><circle cx="111.4" cy="154.9" r="0.70" fill-opacity="0.08"/><circle cx="112.0" cy="156.6" r="0.70" fill-opacity="0.12"/><circle cx="112.7" cy="158.4" r="0.70" fill-opacity="0.09"/><circle cx="113.3" cy="160.1" r="0.70" fill-opacity="0.02"/></g>
<path d="M28.0,176.5L28.7,176.0L29.4,175.6L30.2,175.1L30.9,174.7L31.6,174.3L32.3,173.9L33.1,173.6L33.8,173.3L34.5,173.0L35.2,172.7L36.0,172.5L36.7,172.3L37.4,172.2L38.1,172.1L38.9,172.0L39.6,172.0L40.3,172.0L41.0,172.1L41.7,172.2L42.5,172.3L43.2,172.5L43.9,172.6L44.6,172.8L45.4,173.0L46.1,173.2L46.8,173.4L47.5,173.5L48.3,173.7L49.0,173.8L49.7,173.9L50.4,174.0L51.1,174.0L51.9,173.9L52.6,173.7L53.3,173.3L54.0,172.9L54.8,172.3L55.5,171.8L56.2,171.1L56.9,170.5L57.7,169.9L58.4,169.3L59.1,168.5L59.8,167.7L60.5,166.8L61.3,165.9L62.0,165.1L62.7,164.2L63.4,163.6L64.2,163.0L64.9,162.4L65.6,161.9L66.3,161.3L67.1,160.8L67.8,160.3L68.5,159.9L69.2,159.5L70.0,159.2L70.7,159.1L71.4,159.0L72.1,159.1L72.8,159.4L73.6,159.9L74.3,160.5L75.0,161.2L75.7,161.9L76.5,162.6L77.2,163.3L77.9,163.9L78.6,164.4L79.4,164.9L80.1,165.5L80.8,166.1L81.5,166.6L82.2,167.1L83.0,167.5L83.7,167.8L84.4,168.0L85.1,168.0L85.9,167.8L86.6,167.6L87.3,167.2L88.0,166.8L88.8,166.3L89.5,165.8L90.2,165.2L90.9,164.5L91.7,163.9L92.4,163.2L93.1,162.5L93.8,161.9L94.5,161.3L95.3,160.5L96.0,159.7L96.7,158.8L97.4,157.9L98.2,157.1L98.9,156.3L99.6,155.7L100.3,155.3L101.1,154.9L101.8,154.6L102.5,154.3L103.2,154.0L104.0,153.8L104.7,153.6L105.4,153.6L106.1,154.5L106.8,155.6L107.6,156.4L108.3,157.3L109.0,158.3L109.7,159.5L110.5,160.8L111.2,162.2L111.9,163.6L112.6,165.0L113.4,166.4L114.1,167.8L114.8,169.1L115.5,170.3L116.2,171.5L117.0,172.6L117.7,173.7L118.4,174.7L119.1,175.7L119.9,176.6L120.6,177.5L121.3,178.2L122.0,179.0L122.8,179.7L123.5,180.3L124.2,180.7L124.9,181.1L125.7,181.5L126.4,181.8L127.1,182.1L127.8,182.4L128.5,182.6L129.3,182.8L130.0,182.9L130.7,183.1L131.4,183.2L132.2,183.3L132.9,183.4L133.6,183.5L134.3,183.6L135.1,183.7L135.8,183.8L136.5,183.9L137.2,183.9L137.9,184.0L138.7,184.1L139.4,184.2L140.1,184.3L140.8,184.4L141.6,184.5L142.3,184.6L143.0,184.7L143.7,184.8L144.5,184.9L145.2,185.0L145.9,185.1L146.6,185.2L147.3,185.2L148.1,185.3L148.8,185.4L149.5,185.4L150.2,185.5L151.0,185.6L151.7,185.6L152.4,185.7L153.1,185.7L153.9,185.8L154.6,185.8L155.3,185.9L156.0,185.9L156.8,186.0L157.5,186.0L158.2,186.0L158.9,186.1L159.6,186.1L160.4,186.2L161.1,186.2L161.8,186.2L162.5,186.3L163.3,186.3L164.0,186.4L164.7,186.4L165.4,186.4L166.2,186.5L166.9,186.5L167.6,186.5L168.3,186.5L169.1,186.6L169.8,186.6L170.5,186.6L171.2,186.7L171.9,186.7L172.7,186.7L173.4,186.7L174.1,186.8L174.8,186.8L175.6,186.8L176.3,186.8L177.0,186.9L177.7,186.9L178.5,186.9L179.2,186.9L179.9,187.0L180.6,187.0L181.3,187.0L182.1,187.0L182.8,187.0L183.5,187.1L184.2,187.1L185.0,187.1L185.7,187.1L186.4,187.1L187.1,187.2L187.9,187.2L188.6,187.2L189.3,187.2L190.0,187.2L190.8,187.2L191.5,187.3L192.2,187.3L192.9,187.3L193.6,187.3L194.4,187.3L195.1,187.3L195.8,187.4L196.5,187.4L197.3,187.4L198.0,187.4L198.7,187.4L199.4,187.4L200.2,187.5L200.9,187.5L201.6,187.5L202.3,187.5L203.0,187.5L203.8,187.5L204.5,187.5L205.2,187.6L205.9,187.6L206.7,187.6L207.4,187.6L208.1,187.6L208.8,187.6L209.6,187.7L210.3,187.7L211.0,187.7L211.7,187.7L212.4,187.7L213.2,187.7L213.9,187.7L214.6,187.7L215.3,187.8L216.1,187.8L216.8,187.8L217.5,187.8L218.2,187.8L219.0,187.8L219.7,187.8L220.4,187.9L221.1,187.9L221.9,187.9L222.6,187.9L223.3,187.9L224.0,187.9L224.7,187.9L225.5,187.9L226.2,188.0L226.9,188.0L227.6,188.0L228.4,188.0L229.1,188.0L229.8,188.0L230.5,188.0L231.3,188.0L232.0,188.0L232.7,188.1L233.4,188.1L234.2,188.1L234.9,188.1L235.6,188.1L236.3,188.1L237.0,188.1L237.8,188.1L238.5,188.1L239.2,188.1L239.9,188.1L240.7,188.2L241.4,188.2L242.1,188.2L242.8,188.2L243.6,188.2L244.3,188.2L245.0,188.2" fill="none" stroke="#7fbf44" stroke-width="4.3" stroke-linejoin="round" stroke-linecap="round"/>
<path d="M28.0,179.5L28.7,179.2L29.4,179.0L30.2,178.7L30.9,178.5L31.6,178.3L32.3,178.1L33.1,177.9L33.8,177.7L34.5,177.6L35.2,177.4L36.0,177.3L36.7,177.2L37.4,177.1L38.1,177.0L38.9,177.0L39.6,177.0L40.3,177.0L41.0,177.0L41.7,177.1L42.5,177.2L43.2,177.2L43.9,177.3L44.6,177.4L45.4,177.5L46.1,177.6L46.8,177.7L47.5,177.8L48.3,177.8L49.0,177.9L49.7,178.0L50.4,178.0L51.1,178.0L51.9,177.9L52.6,177.8L53.3,177.5L54.0,177.2L54.8,176.8L55.5,176.4L56.2,176.0L56.9,175.5L57.7,175.1L58.4,174.6L59.1,174.1L59.8,173.5L60.5,172.9L61.3,172.2L62.0,171.6L62.7,171.0L63.4,170.5L64.2,170.1L64.9,169.7L65.6,169.3L66.3,169.0L67.1,168.6L67.8,168.2L68.5,167.9L69.2,167.7L70.0,167.5L70.7,167.3L71.4,167.3L72.1,167.4L72.8,167.6L73.6,168.0L74.3,168.5L75.0,169.1L75.7,169.6L76.5,170.2L77.2,170.7L77.9,171.2L78.6,171.6L79.4,172.0L80.1,172.5L80.8,173.0L81.5,173.4L82.2,173.8L83.0,174.1L83.7,174.4L84.4,174.5L85.1,174.5L85.9,174.4L86.6,174.3L87.3,174.1L88.0,173.9L88.8,173.6L89.5,173.3L90.2,173.0L90.9,172.7L91.7,172.3L92.4,172.0L93.1,171.6L93.8,171.2L94.5,170.9L95.3,170.5L96.0,170.1L96.7,169.7L97.4,169.2L98.2,168.7L98.9,168.2L99.6,167.8L100.3,167.4L101.1,167.1L101.8,166.9L102.5,166.7L103.2,166.5L104.0,166.3L104.7,166.2L105.4,166.1L106.1,166.0L106.8,166.0L107.6,166.6L108.3,167.3L109.0,167.8L109.7,168.4L110.5,169.0L111.2,169.8L111.9,170.6L112.6,171.5L113.4,172.4L114.1,173.3L114.8,174.2L115.5,175.1L116.2,175.9L117.0,176.7L117.7,177.5L118.4,178.2L119.1,178.9L119.9,179.5L120.6,180.2L121.3,180.8L122.0,181.3L122.8,181.8L123.5,182.3L124.2,182.7L124.9,183.1L125.7,183.4L126.4,183.7L127.1,183.9L127.8,184.1L128.5,184.3L129.3,184.5L130.0,184.6L130.7,184.7L131.4,184.8L132.2,184.9L132.9,185.0L133.6,185.0L134.3,185.1L135.1,185.2L135.8,185.2L136.5,185.3L137.2,185.3L137.9,185.4L138.7,185.5L139.4,185.5L140.1,185.6L140.8,185.7L141.6,185.8L142.3,185.9L143.0,185.9L143.7,186.0L144.5,186.1L145.2,186.2L145.9,186.3L146.6,186.4L147.3,186.4L148.1,186.5L148.8,186.6L149.5,186.6L150.2,186.7L151.0,186.7L151.7,186.8L152.4,186.8L153.1,186.9L153.9,186.9L154.6,186.9L155.3,187.0L156.0,187.0L156.8,187.1L157.5,187.1L158.2,187.1L158.9,187.2L159.6,187.2L160.4,187.2L161.1,187.2L161.8,187.3L162.5,187.3L163.3,187.3L164.0,187.4L164.7,187.4L165.4,187.4L166.2,187.4L166.9,187.5L167.6,187.5L168.3,187.5L169.1,187.5L169.8,187.5L170.5,187.6L171.2,187.6L171.9,187.6L172.7,187.6L173.4,187.7L174.1,187.7L174.8,187.7L175.6,187.7L176.3,187.7L177.0,187.7L177.7,187.8L178.5,187.8L179.2,187.8L179.9,187.8L180.6,187.8L181.3,187.9L182.1,187.9L182.8,187.9L183.5,187.9L184.2,187.9L185.0,187.9L185.7,187.9L186.4,188.0L187.1,188.0L187.9,188.0L188.6,188.0L189.3,188.0L190.0,188.0L190.8,188.0L191.5,188.1L192.2,188.1L192.9,188.1L193.6,188.1L194.4,188.1L195.1,188.1L195.8,188.1L196.5,188.2L197.3,188.2L198.0,188.2L198.7,188.2L199.4,188.2L200.2,188.2L200.9,188.2L201.6,188.2L202.3,188.3L203.0,188.3L203.8,188.3L204.5,188.3L205.2,188.3L205.9,188.3L206.7,188.3L207.4,188.3L208.1,188.3L208.8,188.4L209.6,188.4L210.3,188.4L211.0,188.4L211.7,188.4L212.4,188.4L213.2,188.4L213.9,188.4L214.6,188.4L215.3,188.5L216.1,188.5L216.8,188.5L217.5,188.5L218.2,188.5L219.0,188.5L219.7,188.5L220.4,188.5L221.1,188.5L221.9,188.5L222.6,188.6L223.3,188.6L224.0,188.6L224.7,188.6L225.5,188.6L226.2,188.6L226.9,188.6L227.6,188.6L228.4,188.6L229.1,188.6L229.8,188.7L230.5,188.7L231.3,188.7L232.0,188.7L232.7,188.7L233.4,188.7L234.2,188.7L234.9,188.7L235.6,188.7L236.3,188.7L237.0,188.7L237.8,188.7L238.5,188.7L239.2,188.8L239.9,188.8L240.7,188.8L241.4,188.8L242.1,188.8L242.8,188.8L243.6,188.8L244.3,188.8L245.0,188.8" fill="none" stroke="#3ea02e" stroke-width="4.3" stroke-linejoin="round" stroke-linecap="round"/>
<path d="M28.0,182.5L28.7,182.3L29.4,182.2L30.2,182.0L30.9,181.9L31.6,181.7L32.3,181.6L33.1,181.5L33.8,181.4L34.5,181.3L35.2,181.2L36.0,181.2L36.7,181.1L37.4,181.1L38.1,181.0L38.9,181.0L39.6,181.0L40.3,181.0L41.0,181.0L41.7,181.1L42.5,181.2L43.2,181.2L43.9,181.3L44.6,181.4L45.4,181.5L46.1,181.6L46.8,181.7L47.5,181.8L48.3,181.8L49.0,181.9L49.7,182.0L50.4,182.0L51.1,182.0L51.9,182.0L52.6,181.9L53.3,181.7L54.0,181.5L54.8,181.2L55.5,181.0L56.2,180.7L56.9,180.4L57.7,180.1L58.4,179.8L59.1,179.5L59.8,179.1L60.5,178.6L61.3,178.2L62.0,177.8L62.7,177.4L63.4,177.1L64.2,176.9L64.9,176.6L65.6,176.3L66.3,176.1L67.1,175.8L67.8,175.6L68.5,175.4L69.2,175.2L70.0,175.1L70.7,175.0L71.4,175.0L72.1,175.1L72.8,175.2L73.6,175.5L74.3,175.8L75.0,176.2L75.7,176.6L76.5,177.0L77.2,177.4L77.9,177.7L78.6,178.0L79.4,178.3L80.1,178.6L80.8,178.9L81.5,179.2L82.2,179.5L83.0,179.7L83.7,179.9L84.4,180.0L85.1,180.0L85.9,180.0L86.6,179.9L87.3,179.8L88.0,179.7L88.8,179.6L89.5,179.4L90.2,179.2L90.9,179.1L91.7,178.9L92.4,178.7L93.1,178.5L93.8,178.3L94.5,178.2L95.3,178.0L96.0,177.8L96.7,177.6L97.4,177.3L98.2,177.1L98.9,176.8L99.6,176.6L100.3,176.4L101.1,176.2L101.8,176.1L102.5,176.0L103.2,175.9L104.0,175.8L104.7,175.7L105.4,175.6L106.1,175.5L106.8,175.5L107.6,175.6L108.3,175.9L109.0,176.3L109.7,176.6L110.5,177.0L111.2,177.4L111.9,177.8L112.6,178.3L113.4,178.9L114.1,179.4L114.8,179.9L115.5,180.4L116.2,181.0L117.0,181.5L117.7,181.9L118.4,182.4L119.1,182.8L119.9,183.2L120.6,183.6L121.3,183.9L122.0,184.3L122.8,184.6L123.5,184.9L124.2,185.2L124.9,185.4L125.7,185.6L126.4,185.8L127.1,185.9L127.8,186.1L128.5,186.2L129.3,186.3L130.0,186.4L130.7,186.5L131.4,186.6L132.2,186.6L132.9,186.7L133.6,186.7L134.3,186.7L135.1,186.8L135.8,186.8L136.5,186.8L137.2,186.9L137.9,186.9L138.7,186.9L139.4,187.0L140.1,187.0L140.8,187.1L141.6,187.1L142.3,187.2L143.0,187.3L143.7,187.4L144.5,187.4L145.2,187.5L145.9,187.6L146.6,187.6L147.3,187.7L148.1,187.8L148.8,187.8L149.5,187.9L150.2,187.9L151.0,187.9L151.7,188.0L152.4,188.0L153.1,188.0L153.9,188.1L154.6,188.1L155.3,188.1L156.0,188.2L156.8,188.2L157.5,188.2L158.2,188.2L158.9,188.3L159.6,188.3L160.4,188.3L161.1,188.3L161.8,188.3L162.5,188.4L163.3,188.4L164.0,188.4L164.7,188.4L165.4,188.4L166.2,188.5L166.9,188.5L167.6,188.5L168.3,188.5L169.1,188.5L169.8,188.6L170.5,188.6L171.2,188.6L171.9,188.6L172.7,188.6L173.4,188.6L174.1,188.6L174.8,188.7L175.6,188.7L176.3,188.7L177.0,188.7L177.7,188.7L178.5,188.7L179.2,188.7L179.9,188.8L180.6,188.8L181.3,188.8L182.1,188.8L182.8,188.8L183.5,188.8L184.2,188.8L185.0,188.8L185.7,188.9L186.4,188.9L187.1,188.9L187.9,188.9L188.6,188.9L189.3,188.9L190.0,188.9L190.8,188.9L191.5,188.9L192.2,189.0L192.9,189.0L193.6,189.0L194.4,189.0L195.1,189.0L195.8,189.0L196.5,189.0L197.3,189.0L198.0,189.0L198.7,189.0L199.4,189.0L200.2,189.1L200.9,189.1L201.6,189.1L202.3,189.1L203.0,189.1L203.8,189.1L204.5,189.1L205.2,189.1L205.9,189.1L206.7,189.1L207.4,189.1L208.1,189.2L208.8,189.2L209.6,189.2L210.3,189.2L211.0,189.2L211.7,189.2L212.4,189.2L213.2,189.2L213.9,189.2L214.6,189.2L215.3,189.2L216.1,189.2L216.8,189.3L217.5,189.3L218.2,189.3L219.0,189.3L219.7,189.3L220.4,189.3L221.1,189.3L221.9,189.3L222.6,189.3L223.3,189.3L224.0,189.3L224.7,189.3L225.5,189.3L226.2,189.4L226.9,189.4L227.6,189.4L228.4,189.4L229.1,189.4L229.8,189.4L230.5,189.4L231.3,189.4L232.0,189.4L232.7,189.4L233.4,189.4L234.2,189.4L234.9,189.4L235.6,189.4L236.3,189.4L237.0,189.4L237.8,189.5L238.5,189.5L239.2,189.5L239.9,189.5L240.7,189.5L241.4,189.5L242.1,189.5L242.8,189.5L243.6,189.5L244.3,189.5L245.0,189.5" fill="none" stroke="#259222" stroke-width="4.3" stroke-linejoin="round" stroke-linecap="round"/>
<path d="M28.0,186.0L28.7,185.9L29.4,185.9L30.2,185.8L30.9,185.8L31.6,185.7L32.3,185.7L33.1,185.7L33.8,185.6L34.5,185.6L35.2,185.6L36.0,185.5L36.7,185.5L37.4,185.5L38.1,185.5L38.9,185.5L39.6,185.5L40.3,185.5L41.0,185.5L41.7,185.5L42.5,185.6L43.2,185.6L43.9,185.7L44.6,185.7L45.4,185.8L46.1,185.8L46.8,185.8L47.5,185.9L48.3,185.9L49.0,186.0L49.7,186.0L50.4,186.0L51.1,186.0L51.9,186.0L52.6,186.0L53.3,185.9L54.0,185.9L54.8,185.8L55.5,185.8L56.2,185.7L56.9,185.7L57.7,185.6L58.4,185.5L59.1,185.5L59.8,185.4L60.5,185.3L61.3,185.2L62.0,185.1L62.7,185.0L63.4,185.0L64.2,184.9L64.9,184.8L65.6,184.8L66.3,184.7L67.1,184.7L67.8,184.6L68.5,184.6L69.2,184.6L70.0,184.5L70.7,184.5L71.4,184.5L72.1,184.5L72.8,184.6L73.6,184.7L74.3,184.8L75.0,184.9L75.7,185.0L76.5,185.1L77.2,185.2L77.9,185.3L78.6,185.4L79.4,185.5L80.1,185.6L80.8,185.7L81.5,185.8L82.2,185.9L83.0,185.9L83.7,186.0L84.4,186.0L85.1,186.0L85.9,186.0L86.6,186.0L87.3,185.9L88.0,185.9L88.8,185.9L89.5,185.8L90.2,185.7L90.9,185.7L91.7,185.6L92.4,185.6L93.1,185.5L93.8,185.4L94.5,185.4L95.3,185.3L96.0,185.3L96.7,185.2L97.4,185.1L98.2,185.0L98.9,184.9L99.6,184.9L100.3,184.8L101.1,184.7L101.8,184.7L102.5,184.7L103.2,184.6L104.0,184.6L104.7,184.6L105.4,184.5L106.1,184.5L106.8,184.5L107.6,184.5L108.3,184.7L109.0,184.8L109.7,184.9L110.5,185.0L111.2,185.1L111.9,185.3L112.6,185.5L113.4,185.7L114.1,185.8L114.8,186.0L115.5,186.2L116.2,186.4L117.0,186.6L117.7,186.7L118.4,186.9L119.1,187.0L119.9,187.2L120.6,187.3L121.3,187.4L122.0,187.6L122.8,187.7L123.5,187.8L124.2,187.9L124.9,187.9L125.7,188.0L126.4,188.1L127.1,188.1L127.8,188.2L128.5,188.2L129.3,188.3L130.0,188.3L130.7,188.3L131.4,188.3L132.2,188.4L132.9,188.4L133.6,188.4L134.3,188.4L135.1,188.4L135.8,188.4L136.5,188.4L137.2,188.4L137.9,188.5L138.7,188.5L139.4,188.5L140.1,188.5L140.8,188.5L141.6,188.6L142.3,188.6L143.0,188.6L143.7,188.7L144.5,188.7L145.2,188.8L145.9,188.8L146.6,188.9L147.3,188.9L148.1,188.9L148.8,189.0L149.5,189.0L150.2,189.0L151.0,189.0L151.7,189.0L152.4,189.1L153.1,189.1L153.9,189.1L154.6,189.1L155.3,189.1L156.0,189.1L156.8,189.2L157.5,189.2L158.2,189.2L158.9,189.2L159.6,189.2L160.4,189.2L161.1,189.2L161.8,189.3L162.5,189.3L163.3,189.3L164.0,189.3L164.7,189.3L165.4,189.3L166.2,189.3L166.9,189.3L167.6,189.3L168.3,189.3L169.1,189.4L169.8,189.4L170.5,189.4L171.2,189.4L171.9,189.4L172.7,189.4L173.4,189.4L174.1,189.4L174.8,189.4L175.6,189.4L176.3,189.4L177.0,189.5L177.7,189.5L178.5,189.5L179.2,189.5L179.9,189.5L180.6,189.5L181.3,189.5L182.1,189.5L182.8,189.5L183.5,189.5L184.2,189.5L185.0,189.5L185.7,189.5L186.4,189.5L187.1,189.6L187.9,189.6L188.6,189.6L189.3,189.6L190.0,189.6L190.8,189.6L191.5,189.6L192.2,189.6L192.9,189.6L193.6,189.6L194.4,189.6L195.1,189.6L195.8,189.6L196.5,189.6L197.3,189.6L198.0,189.6L198.7,189.6L199.4,189.6L200.2,189.7L200.9,189.7L201.6,189.7L202.3,189.7L203.0,189.7L203.8,189.7L204.5,189.7L205.2,189.7L205.9,189.7L206.7,189.7L207.4,189.7L208.1,189.7L208.8,189.7L209.6,189.7L210.3,189.7L211.0,189.7L211.7,189.7L212.4,189.7L213.2,189.7L213.9,189.7L214.6,189.7L215.3,189.8L216.1,189.8L216.8,189.8L217.5,189.8L218.2,189.8L219.0,189.8L219.7,189.8L220.4,189.8L221.1,189.8L221.9,189.8L222.6,189.8L223.3,189.8L224.0,189.8L224.7,189.8L225.5,189.8L226.2,189.8L226.9,189.8L227.6,189.8L228.4,189.8L229.1,189.8L229.8,189.8L230.5,189.8L231.3,189.8L232.0,189.8L232.7,189.9L233.4,189.9L234.2,189.9L234.9,189.9L235.6,189.9L236.3,189.9L237.0,189.9L237.8,189.9L238.5,189.9L239.2,189.9L239.9,189.9L240.7,189.9L241.4,189.9L242.1,189.9L242.8,189.9L243.6,189.9L244.3,189.9L245.0,189.9" fill="none" stroke="#167c16" stroke-width="5" stroke-linejoin="round" stroke-linecap="round"/>
</g>
<g clip-path="url(#cb)">
<path d="M312.0,147.5L312.7,147.5L313.4,147.3L314.2,147.2L314.9,147.0L315.6,146.7L316.3,146.3L317.1,145.8L317.8,145.2L318.5,144.4L319.2,143.7L320.0,142.8L320.7,142.0L321.4,141.2L322.1,140.3L322.9,139.3L323.6,138.1L324.3,136.9L325.0,135.7L325.7,134.5L326.5,133.4L327.2,132.4L327.9,131.4L328.6,130.5L329.4,129.5L330.1,128.6L330.8,127.6L331.5,126.6L332.3,125.6L333.0,124.5L333.7,123.5L334.4,122.5L335.1,121.3L335.9,120.1L336.6,118.8L337.3,117.4L338.0,115.7L338.8,113.8L339.5,111.7L340.2,109.5L340.9,107.0L341.7,104.2L342.4,101.2L343.1,98.5L343.8,95.7L344.6,93.1L345.3,90.5L346.0,88.0L346.7,85.6L347.4,83.2L348.2,81.0L348.9,79.3L349.6,77.9L350.3,76.5L351.1,75.3L351.8,74.2L352.5,73.3L353.2,72.7L354.0,72.5L354.7,72.7L355.4,73.3L356.1,74.2L356.8,75.3L357.6,76.6L358.3,77.8L359.0,79.0L359.7,80.1L360.5,80.9L361.2,81.5L361.9,82.1L362.6,82.7L363.4,83.2L364.1,83.6L364.8,83.9L365.5,84.0L366.2,83.9L367.0,83.5L367.7,82.9L368.4,82.1L369.1,81.2L369.9,80.2L370.6,79.2L371.3,78.2L372.0,77.2L372.8,76.2L373.5,74.9L374.2,73.6L374.9,72.3L375.7,71.0L376.4,69.9L377.1,69.0L377.8,68.3L378.5,67.6L379.3,67.0L380.0,66.5L380.7,66.1L381.4,66.0L382.2,66.4L382.9,67.3L383.6,68.7L384.3,70.4L385.1,72.2L385.8,73.9L386.5,75.7L387.2,77.8L387.9,80.5L388.7,84.8L389.4,90.1L390.1,95.6L390.8,100.5L391.6,104.6L392.3,108.5L393.0,112.6L393.7,117.3L394.5,122.8L395.2,128.5L395.9,133.9L396.6,138.3L397.4,141.8L398.1,144.8L398.8,147.6L399.5,150.0L400.2,152.3L401.0,154.2L401.7,156.1L402.4,157.8L403.1,159.5L403.9,161.0L404.6,162.5L405.3,163.8L406.0,165.1L406.8,166.2L407.5,167.3L408.2,168.2L408.9,169.1L409.6,169.9L410.4,170.7L411.1,171.4L411.8,172.0L412.5,172.6L413.3,173.0L414.0,173.4L414.7,173.7L415.4,174.0L416.2,174.3L416.9,174.5L417.6,174.7L418.3,175.0L419.1,175.2L419.8,175.4L420.5,175.6L421.2,175.7L421.9,175.9L422.7,176.1L423.4,176.3L424.1,176.5L424.8,176.8L425.6,177.0L426.3,177.2L427.0,177.5L427.7,177.7L428.5,178.0L429.2,178.2L429.9,178.4L430.6,178.7L431.4,178.9L432.1,179.1L432.8,179.3L433.5,179.5L434.2,179.7L435.0,179.9L435.7,180.0L436.4,180.2L437.1,180.3L437.9,180.4L438.6,180.5L439.3,180.6L440.0,180.7L440.8,180.7L441.5,180.8L442.2,180.9L442.9,180.9L443.6,181.0L444.4,181.0L445.1,181.1L445.8,181.1L446.5,181.2L447.3,181.2L448.0,181.3L448.7,181.3L449.4,181.3L450.2,181.4L450.9,181.4L451.6,181.4L452.3,181.5L453.1,181.5L453.8,181.5L454.5,181.6L455.2,181.6L455.9,181.6L456.7,181.7L457.4,181.7L458.1,181.7L458.8,181.7L459.6,181.8L460.3,181.8L461.0,181.8L461.7,181.8L462.5,181.9L463.2,181.9L463.9,181.9L464.6,181.9L465.3,182.0L466.1,182.0L466.8,182.0L467.5,182.0L468.2,182.0L469.0,182.1L469.7,182.1L470.4,182.1L471.1,182.1L471.9,182.1L472.6,182.1L473.3,182.2L474.0,182.2L474.8,182.2L475.5,182.2L476.2,182.2L476.9,182.2L477.6,182.3L478.4,182.3L479.1,182.3L479.8,182.3L480.5,182.3L481.3,182.3L482.0,182.3L482.7,182.4L483.4,182.4L484.2,182.4L484.9,182.4L485.6,182.4L486.3,182.4L487.0,182.5L487.8,182.5L488.5,182.5L489.2,182.5L489.9,182.5L490.7,182.5L491.4,182.5L492.1,182.6L492.8,182.6L493.6,182.6L494.3,182.6L495.0,182.6L495.7,182.6L496.4,182.6L497.2,182.6L497.9,182.7L498.6,182.7L499.3,182.7L500.1,182.7L500.8,182.7L501.5,182.7L502.2,182.7L503.0,182.7L503.7,182.8L504.4,182.8L505.1,182.8L505.9,182.8L506.6,182.8L507.3,182.8L508.0,182.8L508.7,182.8L509.5,182.8L510.2,182.8L510.9,182.9L511.6,182.9L512.4,182.9L513.1,182.9L513.8,182.9L514.5,182.9L515.3,182.9L516.0,182.9L516.7,182.9L517.4,182.9L518.1,182.9L518.9,182.9L519.6,182.9L520.3,183.0L521.0,183.0L521.8,183.0L522.5,183.0L523.2,183.0L523.9,183.0L524.7,183.0L525.4,183.0L526.1,183.0L526.8,183.0L527.6,183.0L528.3,183.0L529.0,183.0" fill="none" stroke="#0000ff" stroke-width="4.3" stroke-linejoin="round" stroke-linecap="round"/>
<g fill="#fff"><circle cx="338.7" cy="113.9" r="0.70" fill-opacity="0.08"/><circle cx="339.4" cy="112.1" r="0.70" fill-opacity="0.18"/><circle cx="340.0" cy="110.1" r="0.70" fill-opacity="0.26"/><circle cx="340.6" cy="108.0" r="0.70" fill-opacity="0.35"/><circle cx="341.3" cy="105.7" r="0.70" fill-opacity="0.56"/><circle cx="341.9" cy="103.1" r="0.70" fill-opacity="0.69"/><circle cx="342.6" cy="100.6" r="0.70" fill-opacity="0.61"/><circle cx="343.2" cy="98.1" r="0.70" fill-opacity="0.58"/><circle cx="343.8" cy="95.7" r="0.70" fill-opacity="0.56"/><circle cx="344.5" cy="93.4" r="0.70" fill-opacity="0.51"/><circle cx="345.1" cy="91.1" r="0.70" fill-opacity="0.42"/><circle cx="345.7" cy="88.9" r="0.70" fill-opacity="0.41"/><circle cx="346.4" cy="86.8" r="0.70" fill-opacity="0.41"/><circle cx="347.0" cy="84.6" r="0.70" fill-opacity="0.34"/><circle cx="347.6" cy="82.5" r="0.70" fill-opacity="0.18"/><circle cx="387.1" cy="77.4" r="0.70" fill-opacity="0.17"/><circle cx="387.7" cy="79.7" r="0.70" fill-opacity="0.47"/><circle cx="388.4" cy="82.9" r="0.70" fill-opacity="0.90"/><circle cx="389.0" cy="87.2" r="0.70" fill-opacity="0.90"/><circle cx="389.7" cy="92.1" r="0.70" fill-opacity="0.90"/><circle cx="390.3" cy="96.9" r="0.70" fill-opacity="0.90"/><circle cx="390.9" cy="101.0" r="0.70" fill-opacity="0.90"/><circle cx="391.6" cy="104.6" r="0.70" fill-opacity="0.90"/><circle cx="392.2" cy="108.0" r="0.70" fill-opacity="0.90"/><circle cx="392.8" cy="111.6" r="0.70" fill-opacity="0.90"/><circle cx="393.5" cy="115.5" r="0.70" fill-opacity="0.90"/><circle cx="394.1" cy="120.1" r="0.70" fill-opacity="0.90"/><circle cx="394.7" cy="125.0" r="0.70" fill-opacity="0.90"/><circle cx="395.4" cy="130.0" r="0.70" fill-opacity="0.90"/><circle cx="396.0" cy="134.7" r="0.70" fill-opacity="0.90"/><circle cx="396.7" cy="138.5" r="0.70" fill-opacity="0.90"/><circle cx="397.3" cy="141.5" r="0.70" fill-opacity="0.83"/><circle cx="397.9" cy="144.3" r="0.70" fill-opacity="0.65"/><circle cx="398.6" cy="146.7" r="0.70" fill-opacity="0.48"/><circle cx="399.2" cy="149.0" r="0.70" fill-opacity="0.33"/><circle cx="399.8" cy="151.0" r="0.70" fill-opacity="0.20"/><circle cx="400.5" cy="152.9" r="0.70" fill-opacity="0.08"/><circle cx="401.1" cy="154.6" r="0.70" fill-opacity="0.03"/></g>
<path d="M312.0,151.0L312.7,151.0L313.4,151.0L314.2,151.0L314.9,151.0L315.6,151.0L316.3,150.8L317.1,150.5L317.8,150.0L318.5,149.5L319.2,148.8L320.0,148.1L320.7,147.3L321.4,146.6L322.1,145.9L322.9,145.2L323.6,144.3L324.3,143.4L325.0,142.5L325.7,141.5L326.5,140.6L327.2,139.6L327.9,138.6L328.6,137.6L329.4,136.6L330.1,135.5L330.8,134.5L331.5,133.4L332.3,132.4L333.0,131.4L333.7,130.4L334.4,129.4L335.1,128.5L335.9,127.4L336.6,126.4L337.3,125.3L338.0,124.2L338.8,123.1L339.5,121.9L340.2,120.6L340.9,119.0L341.7,116.9L342.4,114.3L343.1,111.5L343.8,108.8L344.6,105.9L345.3,103.0L346.0,99.9L346.7,96.7L347.4,94.1L348.2,92.4L348.9,91.1L349.6,89.9L350.3,88.8L351.1,87.9L351.8,87.2L352.5,86.7L353.2,86.5L354.0,86.6L354.7,87.2L355.4,88.0L356.1,88.9L356.8,90.0L357.6,90.9L358.3,91.6L359.0,92.1L359.7,92.4L360.5,92.7L361.2,92.9L361.9,93.2L362.6,93.3L363.4,93.5L364.1,93.5L364.8,93.4L365.5,93.0L366.2,92.5L367.0,91.8L367.7,90.9L368.4,90.0L369.1,89.0L369.9,88.0L370.6,87.0L371.3,86.0L372.0,84.9L372.8,83.7L373.5,82.3L374.2,80.8L374.9,79.4L375.7,78.1L376.4,76.9L377.1,76.0L377.8,75.2L378.5,74.4L379.3,73.7L380.0,73.1L380.7,72.7L381.4,72.5L382.2,72.8L382.9,73.7L383.6,75.0L384.3,76.6L385.1,78.3L385.8,80.0L386.5,81.6L387.2,83.6L387.9,86.2L388.7,90.2L389.4,95.2L390.1,100.4L390.8,105.0L391.6,108.9L392.3,112.5L393.0,116.4L393.7,120.8L394.5,126.0L395.2,131.4L395.9,136.4L396.6,140.7L397.4,143.9L398.1,146.8L398.8,149.4L399.5,151.7L400.2,153.8L401.0,155.6L401.7,157.4L402.4,159.0L403.1,160.6L403.9,162.0L404.6,163.4L405.3,164.7L406.0,165.9L406.8,166.9L407.5,167.9L408.2,168.8L408.9,169.6L409.6,170.4L410.4,171.1L411.1,171.8L411.8,172.4L412.5,172.9L413.3,173.3L414.0,173.7L414.7,174.0L415.4,174.3L416.2,174.5L416.9,174.8L417.6,175.0L418.3,175.2L419.1,175.5L419.8,175.6L420.5,175.8L421.2,176.0L421.9,176.2L422.7,176.4L423.4,176.6L424.1,176.8L424.8,177.1L425.6,177.3L426.3,177.5L427.0,177.8L427.7,178.0L428.5,178.3L429.2,178.5L429.9,178.7L430.6,179.0L431.4,179.2L432.1,179.4L432.8,179.6L433.5,179.8L434.2,180.0L435.0,180.2L435.7,180.3L436.4,180.5L437.1,180.6L437.9,180.7L438.6,180.8L439.3,180.9L440.0,181.0L440.8,181.0L441.5,181.1L442.2,181.2L442.9,181.2L443.6,181.3L444.4,181.3L445.1,181.4L445.8,181.4L446.5,181.5L447.3,181.5L448.0,181.6L448.7,181.6L449.4,181.6L450.2,181.7L450.9,181.7L451.6,181.7L452.3,181.8L453.1,181.8L453.8,181.8L454.5,181.9L455.2,181.9L455.9,181.9L456.7,182.0L457.4,182.0L458.1,182.0L458.8,182.0L459.6,182.1L460.3,182.1L461.0,182.1L461.7,182.1L462.5,182.2L463.2,182.2L463.9,182.2L464.6,182.2L465.3,182.3L466.1,182.3L466.8,182.3L467.5,182.3L468.2,182.3L469.0,182.4L469.7,182.4L470.4,182.4L471.1,182.4L471.9,182.4L472.6,182.4L473.3,182.5L474.0,182.5L474.8,182.5L475.5,182.5L476.2,182.5L476.9,182.5L477.6,182.6L478.4,182.6L479.1,182.6L479.8,182.6L480.5,182.6L481.3,182.6L482.0,182.6L482.7,182.7L483.4,182.7L484.2,182.7L484.9,182.7L485.6,182.7L486.3,182.7L487.0,182.8L487.8,182.8L488.5,182.8L489.2,182.8L489.9,182.8L490.7,182.8L491.4,182.8L492.1,182.9L492.8,182.9L493.6,182.9L494.3,182.9L495.0,182.9L495.7,182.9L496.4,182.9L497.2,182.9L497.9,183.0L498.6,183.0L499.3,183.0L500.1,183.0L500.8,183.0L501.5,183.0L502.2,183.0L503.0,183.0L503.7,183.1L504.4,183.1L505.1,183.1L505.9,183.1L506.6,183.1L507.3,183.1L508.0,183.1L508.7,183.1L509.5,183.1L510.2,183.1L510.9,183.2L511.6,183.2L512.4,183.2L513.1,183.2L513.8,183.2L514.5,183.2L515.3,183.2L516.0,183.2L516.7,183.2L517.4,183.2L518.1,183.2L518.9,183.2L519.6,183.2L520.3,183.3L521.0,183.3L521.8,183.3L522.5,183.3L523.2,183.3L523.9,183.3L524.7,183.3L525.4,183.3L526.1,183.3L526.8,183.3L527.6,183.3L528.3,183.3L529.0,183.3" fill="none" stroke="#1212f4" stroke-width="4.3" stroke-linejoin="round" stroke-linecap="round"/>
<g fill="#fff"><circle cx="341.3" cy="118.1" r="0.70" fill-opacity="0.00"/><circle cx="341.9" cy="116.0" r="0.70" fill-opacity="0.35"/><circle cx="342.6" cy="113.6" r="0.70" fill-opacity="0.57"/><circle cx="343.2" cy="111.2" r="0.70" fill-opacity="0.61"/><circle cx="343.8" cy="108.8" r="0.70" fill-opacity="0.61"/><circle cx="344.5" cy="106.2" r="0.70" fill-opacity="0.70"/><circle cx="345.1" cy="103.7" r="0.70" fill-opacity="0.70"/><circle cx="345.7" cy="101.1" r="0.70" fill-opacity="0.74"/><circle cx="346.4" cy="98.2" r="0.70" fill-opacity="0.78"/><circle cx="347.0" cy="95.6" r="0.70" fill-opacity="0.35"/><circle cx="387.1" cy="83.3" r="0.70" fill-opacity="0.10"/><circle cx="387.7" cy="85.4" r="0.70" fill-opacity="0.38"/><circle cx="388.4" cy="88.4" r="0.70" fill-opacity="0.90"/><circle cx="389.0" cy="92.5" r="0.70" fill-opacity="0.90"/><circle cx="389.7" cy="97.1" r="0.70" fill-opacity="0.90"/><circle cx="390.3" cy="101.6" r="0.70" fill-opacity="0.90"/><circle cx="390.9" cy="105.5" r="0.70" fill-opacity="0.90"/><circle cx="391.6" cy="108.9" r="0.70" fill-opacity="0.90"/><circle cx="392.2" cy="112.1" r="0.70" fill-opacity="0.90"/><circle cx="392.8" cy="115.4" r="0.70" fill-opacity="0.90"/><circle cx="393.5" cy="119.1" r="0.70" fill-opacity="0.90"/><circle cx="394.1" cy="123.4" r="0.70" fill-opacity="0.90"/><circle cx="394.7" cy="128.1" r="0.70" fill-opacity="0.90"/><circle cx="395.4" cy="132.8" r="0.70" fill-opacity="0.90"/><circle cx="396.0" cy="137.2" r="0.70" fill-opacity="0.90"/><circle cx="396.7" cy="140.8" r="0.70" fill-opacity="0.90"/><circle cx="397.3" cy="143.6" r="0.70" fill-opacity="0.72"/><circle cx="397.9" cy="146.2" r="0.70" fill-opacity="0.55"/><circle cx="398.6" cy="148.6" r="0.70" fill-opacity="0.39"/><circle cx="399.2" cy="150.7" r="0.70" fill-opacity="0.25"/><circle cx="399.8" cy="152.6" r="0.70" fill-opacity="0.12"/><circle cx="400.5" cy="154.4" r="0.70" fill-opacity="0.02"/></g>
<path d="M312.0,154.0L312.7,155.1L313.4,156.1L314.2,156.9L314.9,157.5L315.6,158.0L316.3,158.5L317.1,158.9L317.8,159.0L318.5,159.0L319.2,158.9L320.0,158.7L320.7,158.5L321.4,158.3L322.1,158.0L322.9,157.6L323.6,156.9L324.3,156.1L325.0,155.2L325.7,154.3L326.5,153.3L327.2,152.5L327.9,151.6L328.6,150.8L329.4,149.9L330.1,148.9L330.8,148.0L331.5,147.0L332.3,146.0L333.0,145.0L333.7,144.0L334.4,143.0L335.1,142.0L335.9,141.1L336.6,140.2L337.3,139.4L338.0,138.5L338.8,137.6L339.5,136.5L340.2,135.2L340.9,133.5L341.7,131.5L342.4,129.2L343.1,126.7L343.8,124.3L344.6,121.9L345.3,119.6L346.0,117.2L346.7,114.8L347.4,112.8L348.2,111.5L348.9,110.5L349.6,109.4L350.3,108.5L351.1,107.7L351.8,107.1L352.5,106.7L353.2,106.5L354.0,106.6L354.7,106.9L355.4,107.3L356.1,107.9L356.8,108.5L357.6,109.0L358.3,109.5L359.0,110.0L359.7,110.5L360.5,110.9L361.2,111.3L361.9,111.5L362.6,111.4L363.4,111.2L364.1,110.7L364.8,110.1L365.5,109.3L366.2,108.4L367.0,107.5L367.7,106.4L368.4,105.3L369.1,104.2L369.9,103.1L370.6,102.0L371.3,101.0L372.0,99.9L372.8,98.6L373.5,97.3L374.2,95.9L374.9,94.5L375.7,93.2L376.4,92.0L377.1,91.0L377.8,90.0L378.5,89.0L379.3,88.1L380.0,87.2L380.7,86.5L381.4,86.1L382.2,86.0L382.9,86.6L383.6,87.7L384.3,89.2L385.1,90.9L385.8,92.5L386.5,94.0L387.2,95.7L387.9,97.9L388.7,101.4L389.4,105.7L390.1,110.3L390.8,114.2L391.6,117.6L392.3,120.8L393.0,124.1L393.7,128.0L394.5,132.5L395.2,137.1L395.9,141.6L396.6,145.2L397.4,148.0L398.1,150.5L398.8,152.8L399.5,154.8L400.2,156.6L401.0,158.2L401.7,159.7L402.4,161.2L403.1,162.5L403.9,163.8L404.6,165.0L405.3,166.1L406.0,167.1L406.8,168.1L407.5,168.9L408.2,169.7L408.9,170.4L409.6,171.1L410.4,171.7L411.1,172.3L411.8,172.8L412.5,173.2L413.3,173.6L414.0,173.9L414.7,174.2L415.4,174.5L416.2,174.8L416.9,175.1L417.6,175.3L418.3,175.5L419.1,175.7L419.8,175.9L420.5,176.1L421.2,176.3L421.9,176.5L422.7,176.7L423.4,176.9L424.1,177.1L424.8,177.4L425.6,177.6L426.3,177.8L427.0,178.1L427.7,178.3L428.5,178.6L429.2,178.8L429.9,179.0L430.6,179.3L431.4,179.5L432.1,179.7L432.8,179.9L433.5,180.1L434.2,180.3L435.0,180.5L435.7,180.6L436.4,180.8L437.1,180.9L437.9,181.0L438.6,181.1L439.3,181.2L440.0,181.3L440.8,181.3L441.5,181.4L442.2,181.5L442.9,181.5L443.6,181.6L444.4,181.6L445.1,181.7L445.8,181.7L446.5,181.8L447.3,181.8L448.0,181.9L448.7,181.9L449.4,181.9L450.2,182.0L450.9,182.0L451.6,182.0L452.3,182.1L453.1,182.1L453.8,182.1L454.5,182.2L455.2,182.2L455.9,182.2L456.7,182.3L457.4,182.3L458.1,182.3L458.8,182.3L459.6,182.4L460.3,182.4L461.0,182.4L461.7,182.4L462.5,182.5L463.2,182.5L463.9,182.5L464.6,182.5L465.3,182.6L466.1,182.6L466.8,182.6L467.5,182.6L468.2,182.6L469.0,182.7L469.7,182.7L470.4,182.7L471.1,182.7L471.9,182.7L472.6,182.7L473.3,182.8L474.0,182.8L474.8,182.8L475.5,182.8L476.2,182.8L476.9,182.8L477.6,182.9L478.4,182.9L479.1,182.9L479.8,182.9L480.5,182.9L481.3,182.9L482.0,182.9L482.7,183.0L483.4,183.0L484.2,183.0L484.9,183.0L485.6,183.0L486.3,183.0L487.0,183.1L487.8,183.1L488.5,183.1L489.2,183.1L489.9,183.1L490.7,183.1L491.4,183.1L492.1,183.2L492.8,183.2L493.6,183.2L494.3,183.2L495.0,183.2L495.7,183.2L496.4,183.2L497.2,183.2L497.9,183.3L498.6,183.3L499.3,183.3L500.1,183.3L500.8,183.3L501.5,183.3L502.2,183.3L503.0,183.3L503.7,183.4L504.4,183.4L505.1,183.4L505.9,183.4L506.6,183.4L507.3,183.4L508.0,183.4L508.7,183.4L509.5,183.4L510.2,183.4L510.9,183.5L511.6,183.5L512.4,183.5L513.1,183.5L513.8,183.5L514.5,183.5L515.3,183.5L516.0,183.5L516.7,183.5L517.4,183.5L518.1,183.5L518.9,183.5L519.6,183.5L520.3,183.6L521.0,183.6L521.8,183.6L522.5,183.6L523.2,183.6L523.9,183.6L524.7,183.6L525.4,183.6L526.1,183.6L526.8,183.6L527.6,183.6L528.3,183.6L529.0,183.6" fill="none" stroke="#2a2af2" stroke-width="4.3" stroke-linejoin="round" stroke-linecap="round"/>
<g fill="#fff"><circle cx="341.3" cy="132.6" r="0.70" fill-opacity="0.07"/><circle cx="341.9" cy="130.7" r="0.70" fill-opacity="0.24"/><circle cx="342.6" cy="128.6" r="0.70" fill-opacity="0.36"/><circle cx="343.2" cy="126.4" r="0.70" fill-opacity="0.41"/><circle cx="343.8" cy="124.3" r="0.70" fill-opacity="0.34"/><circle cx="344.5" cy="122.2" r="0.70" fill-opacity="0.29"/><circle cx="345.1" cy="120.2" r="0.70" fill-opacity="0.29"/><circle cx="345.7" cy="118.1" r="0.70" fill-opacity="0.42"/><circle cx="346.4" cy="115.9" r="0.70" fill-opacity="0.27"/><circle cx="387.7" cy="97.2" r="0.70" fill-opacity="0.17"/><circle cx="388.4" cy="99.8" r="0.70" fill-opacity="0.75"/><circle cx="389.0" cy="103.4" r="0.70" fill-opacity="0.90"/><circle cx="389.7" cy="107.4" r="0.70" fill-opacity="0.90"/><circle cx="390.3" cy="111.3" r="0.70" fill-opacity="0.90"/><circle cx="390.9" cy="114.7" r="0.70" fill-opacity="0.90"/><circle cx="391.6" cy="117.6" r="0.70" fill-opacity="0.89"/><circle cx="392.2" cy="120.4" r="0.70" fill-opacity="0.89"/><circle cx="392.8" cy="123.3" r="0.70" fill-opacity="0.90"/><circle cx="393.5" cy="126.5" r="0.70" fill-opacity="0.90"/><circle cx="394.1" cy="130.3" r="0.70" fill-opacity="0.90"/><circle cx="394.7" cy="134.3" r="0.70" fill-opacity="0.90"/><circle cx="395.4" cy="138.4" r="0.70" fill-opacity="0.90"/><circle cx="396.0" cy="142.2" r="0.70" fill-opacity="0.90"/><circle cx="396.7" cy="145.4" r="0.70" fill-opacity="0.64"/><circle cx="397.3" cy="147.8" r="0.70" fill-opacity="0.47"/><circle cx="397.9" cy="150.1" r="0.70" fill-opacity="0.32"/><circle cx="398.6" cy="152.1" r="0.70" fill-opacity="0.19"/><circle cx="399.2" cy="154.0" r="0.70" fill-opacity="0.07"/></g>
<path d="M312.0,156.0L312.7,158.4L313.4,160.4L314.2,161.8L314.9,162.7L315.6,163.4L316.3,164.0L317.1,164.4L317.8,164.5L318.5,164.5L319.2,164.5L320.0,164.5L320.7,164.5L321.4,164.5L322.1,164.5L322.9,164.4L323.6,164.1L324.3,163.7L325.0,163.1L325.7,162.4L326.5,161.7L327.2,160.9L327.9,160.1L328.6,159.3L329.4,158.5L330.1,157.7L330.8,156.9L331.5,156.0L332.3,155.1L333.0,154.1L333.7,153.1L334.4,152.0L335.1,151.0L335.9,149.9L336.6,148.9L337.3,147.7L338.0,146.6L338.8,145.4L339.5,144.1L340.2,142.7L340.9,141.2L341.7,139.6L342.4,137.8L343.1,136.0L343.8,134.2L344.6,132.6L345.3,131.0L346.0,129.5L346.7,127.9L347.4,126.4L348.2,125.0L348.9,123.8L349.6,122.8L350.3,122.1L351.1,121.4L351.8,120.9L352.5,120.5L353.2,120.4L354.0,120.6L354.7,121.1L355.4,121.7L356.1,122.3L356.8,123.0L357.6,123.5L358.3,123.9L359.0,124.0L359.7,123.8L360.5,123.5L361.2,122.9L361.9,122.2L362.6,121.5L363.4,120.6L364.1,119.7L364.8,118.8L365.5,118.0L366.2,117.1L367.0,116.1L367.7,114.9L368.4,113.7L369.1,112.6L369.9,111.4L370.6,110.3L371.3,109.3L372.0,108.5L372.8,107.6L373.5,106.8L374.2,105.9L374.9,105.0L375.7,104.2L376.4,103.4L377.1,102.6L377.8,101.9L378.5,101.3L379.3,100.8L380.0,100.4L380.7,100.1L381.4,100.0L382.2,100.1L382.9,100.7L383.6,101.7L384.3,102.9L385.1,104.2L385.8,105.5L386.5,106.7L387.2,108.2L387.9,110.0L388.7,113.0L389.4,116.6L390.1,120.5L390.8,123.8L391.6,126.7L392.3,129.4L393.0,132.2L393.7,135.4L394.5,139.2L395.2,143.1L395.9,146.9L396.6,150.0L397.4,152.3L398.1,154.5L398.8,156.3L399.5,158.0L400.2,159.6L401.0,160.9L401.7,162.2L402.4,163.4L403.1,164.6L403.9,165.6L404.6,166.6L405.3,167.6L406.0,168.4L406.8,169.2L407.5,169.9L408.2,170.6L408.9,171.2L409.6,171.7L410.4,172.3L411.1,172.7L411.8,173.2L412.5,173.5L413.3,173.9L414.0,174.2L414.7,174.5L415.4,174.8L416.2,175.1L416.9,175.3L417.6,175.5L418.3,175.8L419.1,176.0L419.8,176.2L420.5,176.4L421.2,176.6L421.9,176.8L422.7,177.0L423.4,177.2L424.1,177.4L424.8,177.7L425.6,177.9L426.3,178.1L427.0,178.4L427.7,178.6L428.5,178.9L429.2,179.1L429.9,179.3L430.6,179.6L431.4,179.8L432.1,180.0L432.8,180.2L433.5,180.4L434.2,180.6L435.0,180.8L435.7,180.9L436.4,181.1L437.1,181.2L437.9,181.3L438.6,181.4L439.3,181.5L440.0,181.6L440.8,181.6L441.5,181.7L442.2,181.8L442.9,181.8L443.6,181.9L444.4,181.9L445.1,182.0L445.8,182.0L446.5,182.1L447.3,182.1L448.0,182.2L448.7,182.2L449.4,182.2L450.2,182.3L450.9,182.3L451.6,182.3L452.3,182.4L453.1,182.4L453.8,182.4L454.5,182.5L455.2,182.5L455.9,182.5L456.7,182.6L457.4,182.6L458.1,182.6L458.8,182.6L459.6,182.7L460.3,182.7L461.0,182.7L461.7,182.7L462.5,182.8L463.2,182.8L463.9,182.8L464.6,182.8L465.3,182.9L466.1,182.9L466.8,182.9L467.5,182.9L468.2,182.9L469.0,183.0L469.7,183.0L470.4,183.0L471.1,183.0L471.9,183.0L472.6,183.0L473.3,183.1L474.0,183.1L474.8,183.1L475.5,183.1L476.2,183.1L476.9,183.1L477.6,183.2L478.4,183.2L479.1,183.2L479.8,183.2L480.5,183.2L481.3,183.2L482.0,183.2L482.7,183.3L483.4,183.3L484.2,183.3L484.9,183.3L485.6,183.3L486.3,183.3L487.0,183.4L487.8,183.4L488.5,183.4L489.2,183.4L489.9,183.4L490.7,183.4L491.4,183.4L492.1,183.5L492.8,183.5L493.6,183.5L494.3,183.5L495.0,183.5L495.7,183.5L496.4,183.5L497.2,183.5L497.9,183.6L498.6,183.6L499.3,183.6L500.1,183.6L500.8,183.6L501.5,183.6L502.2,183.6L503.0,183.6L503.7,183.7L504.4,183.7L505.1,183.7L505.9,183.7L506.6,183.7L507.3,183.7L508.0,183.7L508.7,183.7L509.5,183.7L510.2,183.7L510.9,183.8L511.6,183.8L512.4,183.8L513.1,183.8L513.8,183.8L514.5,183.8L515.3,183.8L516.0,183.8L516.7,183.8L517.4,183.8L518.1,183.8L518.9,183.8L519.6,183.8L520.3,183.9L521.0,183.9L521.8,183.9L522.5,183.9L523.2,183.9L523.9,183.9L524.7,183.9L525.4,183.9L526.1,183.9L526.8,183.9L527.6,183.9L528.3,183.9L529.0,183.9" fill="none" stroke="#4545f0" stroke-width="4.3" stroke-linejoin="round" stroke-linecap="round"/>
<g fill="#fff"><circle cx="312.6" cy="158.1" r="0.70" fill-opacity="0.20"/><circle cx="388.4" cy="111.7" r="0.70" fill-opacity="0.45"/><circle cx="389.0" cy="114.7" r="0.70" fill-opacity="0.90"/><circle cx="389.7" cy="118.0" r="0.70" fill-opacity="0.90"/><circle cx="390.3" cy="121.3" r="0.70" fill-opacity="0.90"/><circle cx="390.9" cy="124.2" r="0.70" fill-opacity="0.65"/><circle cx="391.6" cy="126.7" r="0.70" fill-opacity="0.57"/><circle cx="392.2" cy="129.0" r="0.70" fill-opacity="0.57"/><circle cx="392.8" cy="131.5" r="0.70" fill-opacity="0.62"/><circle cx="393.5" cy="134.2" r="0.70" fill-opacity="0.80"/><circle cx="394.1" cy="137.3" r="0.70" fill-opacity="0.90"/><circle cx="394.7" cy="140.8" r="0.70" fill-opacity="0.90"/><circle cx="395.4" cy="144.2" r="0.70" fill-opacity="0.90"/><circle cx="396.0" cy="147.4" r="0.70" fill-opacity="0.77"/><circle cx="396.7" cy="150.1" r="0.70" fill-opacity="0.36"/><circle cx="397.3" cy="152.2" r="0.70" fill-opacity="0.22"/><circle cx="397.9" cy="154.0" r="0.70" fill-opacity="0.10"/></g>
<path d="M312.0,158.0L312.7,160.7L313.4,163.1L314.2,164.8L314.9,165.8L315.6,166.6L316.3,167.3L317.1,167.7L317.8,168.0L318.5,168.1L319.2,168.3L320.0,168.4L320.7,168.4L321.4,168.5L322.1,168.5L322.9,168.4L323.6,168.3L324.3,168.0L325.0,167.6L325.7,167.2L326.5,166.7L327.2,166.2L327.9,165.6L328.6,165.1L329.4,164.5L330.1,163.9L330.8,163.2L331.5,162.4L332.3,161.6L333.0,160.7L333.7,159.8L334.4,158.9L335.1,158.0L335.9,157.1L336.6,156.3L337.3,155.4L338.0,154.5L338.8,153.5L339.5,152.5L340.2,151.2L340.9,149.7L341.7,148.0L342.4,146.0L343.1,143.9L343.8,141.9L344.6,139.9L345.3,138.0L346.0,136.1L346.7,134.1L347.4,132.2L348.2,130.3L348.9,128.8L349.6,127.8L350.3,127.2L351.1,126.7L351.8,126.3L352.5,126.1L353.2,126.0L354.0,126.1L354.7,126.3L355.4,126.5L356.1,126.8L356.8,127.1L357.6,127.3L358.3,127.5L359.0,127.5L359.7,127.4L360.5,127.2L361.2,126.9L361.9,126.5L362.6,126.0L363.4,125.4L364.1,124.8L364.8,124.1L365.5,123.4L366.2,122.6L367.0,121.9L367.7,121.1L368.4,120.4L369.1,119.7L369.9,119.0L370.6,118.3L371.3,117.6L372.0,116.8L372.8,116.0L373.5,115.1L374.2,114.3L374.9,113.5L375.7,112.6L376.4,111.9L377.1,111.1L377.8,110.4L378.5,109.8L379.3,109.0L380.0,108.3L380.7,107.6L381.4,107.0L382.2,106.6L382.9,106.5L383.6,107.0L384.3,108.4L385.1,110.0L385.8,111.6L386.5,112.8L387.2,114.1L387.9,115.8L388.7,118.5L389.4,121.9L390.1,125.4L390.8,128.5L391.6,131.1L392.3,133.6L393.0,136.2L393.7,139.2L394.5,142.7L395.2,146.4L395.9,149.8L396.6,152.7L397.4,154.9L398.1,156.8L398.8,158.6L399.5,160.1L400.2,161.6L401.0,162.8L401.7,164.0L402.4,165.1L403.1,166.2L403.9,167.2L404.6,168.1L405.3,169.0L406.0,169.8L406.8,170.5L407.5,171.1L408.2,171.7L408.9,172.3L409.6,172.8L410.4,173.3L411.1,173.7L411.8,174.1L412.5,174.5L413.3,174.8L414.0,175.1L414.7,175.4L415.4,175.7L416.2,175.9L416.9,176.2L417.6,176.4L418.3,176.7L419.1,176.9L419.8,177.1L420.5,177.3L421.2,177.5L421.9,177.7L422.7,177.9L423.4,178.1L424.1,178.3L424.8,178.6L425.6,178.8L426.3,179.0L427.0,179.3L427.7,179.5L428.5,179.8L429.2,180.0L429.9,180.2L430.6,180.5L431.4,180.7L432.1,180.9L432.8,181.1L433.5,181.3L434.2,181.5L435.0,181.7L435.7,181.8L436.4,182.0L437.1,182.1L437.9,182.2L438.6,182.3L439.3,182.4L440.0,182.5L440.8,182.5L441.5,182.6L442.2,182.7L442.9,182.7L443.6,182.8L444.4,182.8L445.1,182.9L445.8,182.9L446.5,183.0L447.3,183.0L448.0,183.1L448.7,183.1L449.4,183.1L450.2,183.2L450.9,183.2L451.6,183.2L452.3,183.3L453.1,183.3L453.8,183.3L454.5,183.4L455.2,183.4L455.9,183.4L456.7,183.5L457.4,183.5L458.1,183.5L458.8,183.5L459.6,183.6L460.3,183.6L461.0,183.6L461.7,183.6L462.5,183.7L463.2,183.7L463.9,183.7L464.6,183.7L465.3,183.8L466.1,183.8L466.8,183.8L467.5,183.8L468.2,183.8L469.0,183.9L469.7,183.9L470.4,183.9L471.1,183.9L471.9,183.9L472.6,183.9L473.3,184.0L474.0,184.0L474.8,184.0L475.5,184.0L476.2,184.0L476.9,184.0L477.6,184.1L478.4,184.1L479.1,184.1L479.8,184.1L480.5,184.1L481.3,184.1L482.0,184.1L482.7,184.2L483.4,184.2L484.2,184.2L484.9,184.2L485.6,184.2L486.3,184.2L487.0,184.3L487.8,184.3L488.5,184.3L489.2,184.3L489.9,184.3L490.7,184.3L491.4,184.3L492.1,184.4L492.8,184.4L493.6,184.4L494.3,184.4L495.0,184.4L495.7,184.4L496.4,184.4L497.2,184.4L497.9,184.5L498.6,184.5L499.3,184.5L500.1,184.5L500.8,184.5L501.5,184.5L502.2,184.5L503.0,184.5L503.7,184.6L504.4,184.6L505.1,184.6L505.9,184.6L506.6,184.6L507.3,184.6L508.0,184.6L508.7,184.6L509.5,184.6L510.2,184.6L510.9,184.7L511.6,184.7L512.4,184.7L513.1,184.7L513.8,184.7L514.5,184.7L515.3,184.7L516.0,184.7L516.7,184.7L517.4,184.7L518.1,184.7L518.9,184.7L519.6,184.7L520.3,184.8L521.0,184.8L521.8,184.8L522.5,184.8L523.2,184.8L523.9,184.8L524.7,184.8L525.4,184.8L526.1,184.8L526.8,184.8L527.6,184.8L528.3,184.8L529.0,184.8" fill="none" stroke="#6464ee" stroke-width="4.3" stroke-linejoin="round" stroke-linecap="round"/>
<g fill="#fff"><circle cx="312.6" cy="160.4" r="0.70" fill-opacity="0.42"/><circle cx="313.3" cy="162.6" r="0.70" fill-opacity="0.08"/><circle cx="341.9" cy="147.3" r="0.70" fill-opacity="0.04"/><circle cx="342.6" cy="145.5" r="0.70" fill-opacity="0.13"/><circle cx="343.2" cy="143.7" r="0.70" fill-opacity="0.17"/><circle cx="343.8" cy="141.9" r="0.70" fill-opacity="0.14"/><circle cx="344.5" cy="140.1" r="0.70" fill-opacity="0.06"/><circle cx="345.1" cy="138.4" r="0.70" fill-opacity="0.01"/><circle cx="345.7" cy="136.8" r="0.70" fill-opacity="0.01"/><circle cx="346.4" cy="135.1" r="0.70" fill-opacity="0.10"/><circle cx="347.0" cy="133.3" r="0.70" fill-opacity="0.09"/><circle cx="388.4" cy="117.3" r="0.70" fill-opacity="0.33"/><circle cx="389.0" cy="120.1" r="0.70" fill-opacity="0.86"/><circle cx="389.7" cy="123.2" r="0.70" fill-opacity="0.90"/><circle cx="390.3" cy="126.2" r="0.70" fill-opacity="0.75"/><circle cx="390.9" cy="128.8" r="0.70" fill-opacity="0.51"/><circle cx="391.6" cy="131.1" r="0.70" fill-opacity="0.44"/><circle cx="392.2" cy="133.3" r="0.70" fill-opacity="0.44"/><circle cx="392.8" cy="135.6" r="0.70" fill-opacity="0.49"/><circle cx="393.5" cy="138.1" r="0.70" fill-opacity="0.65"/><circle cx="394.1" cy="141.0" r="0.70" fill-opacity="0.90"/><circle cx="394.7" cy="144.2" r="0.70" fill-opacity="0.90"/><circle cx="395.4" cy="147.4" r="0.70" fill-opacity="0.90"/><circle cx="396.0" cy="150.3" r="0.70" fill-opacity="0.62"/><circle cx="396.7" cy="152.8" r="0.70" fill-opacity="0.25"/><circle cx="397.3" cy="154.7" r="0.70" fill-opacity="0.12"/><circle cx="397.9" cy="156.5" r="0.70" fill-opacity="0.01"/></g>
<path d="M312.0,160.0L312.7,163.2L313.4,165.9L314.2,167.8L314.9,168.8L315.6,169.6L316.3,170.3L317.1,170.7L317.8,171.0L318.5,171.1L319.2,171.3L320.0,171.4L320.7,171.4L321.4,171.5L322.1,171.5L322.9,171.5L323.6,171.3L324.3,171.1L325.0,170.8L325.7,170.5L326.5,170.1L327.2,169.8L327.9,169.3L328.6,168.9L329.4,168.5L330.1,168.1L330.8,167.5L331.5,167.0L332.3,166.3L333.0,165.7L333.7,165.0L334.4,164.2L335.1,163.5L335.9,162.8L336.6,162.0L337.3,161.1L338.0,160.3L338.8,159.3L339.5,158.4L340.2,157.3L340.9,156.1L341.7,154.7L342.4,153.2L343.1,151.7L343.8,150.1L344.6,148.5L345.3,147.0L346.0,145.4L346.7,143.6L347.4,141.9L348.2,140.2L348.9,138.8L349.6,137.8L350.3,137.2L351.1,136.6L351.8,136.2L352.5,135.8L353.2,135.6L354.0,135.5L354.7,135.5L355.4,135.5L356.1,135.5L356.8,135.5L357.6,135.5L358.3,135.5L359.0,135.5L359.7,135.4L360.5,135.2L361.2,134.9L361.9,134.6L362.6,134.1L363.4,133.6L364.1,133.0L364.8,132.4L365.5,131.7L366.2,131.0L367.0,130.3L367.7,129.6L368.4,128.9L369.1,128.2L369.9,127.5L370.6,126.8L371.3,126.0L372.0,125.1L372.8,124.1L373.5,123.2L374.2,122.2L374.9,121.2L375.7,120.3L376.4,119.4L377.1,118.6L377.8,117.9L378.5,117.3L379.3,116.6L380.0,115.9L380.7,115.3L381.4,114.8L382.2,114.3L382.9,114.1L383.6,114.0L384.3,115.1L385.1,116.9L385.8,118.6L386.5,119.7L387.2,120.8L387.9,122.4L388.7,124.8L389.4,127.8L390.1,131.0L390.8,133.8L391.6,136.2L392.3,138.4L393.0,140.8L393.7,143.5L394.5,146.6L395.2,149.9L395.9,153.0L396.6,155.6L397.4,157.6L398.1,159.3L398.8,160.9L399.5,162.3L400.2,163.6L401.0,164.7L401.7,165.8L402.4,166.8L403.1,167.7L403.9,168.6L404.6,169.5L405.3,170.2L406.0,171.0L406.8,171.6L407.5,172.2L408.2,172.7L408.9,173.2L409.6,173.7L410.4,174.1L411.1,174.5L411.8,174.8L412.5,175.2L413.3,175.5L414.0,175.8L414.7,176.1L415.4,176.4L416.2,176.6L416.9,176.9L417.6,177.1L418.3,177.3L419.1,177.5L419.8,177.8L420.5,178.0L421.2,178.2L421.9,178.4L422.7,178.6L423.4,178.8L424.1,179.0L424.8,179.3L425.6,179.5L426.3,179.7L427.0,180.0L427.7,180.2L428.5,180.5L429.2,180.7L429.9,180.9L430.6,181.2L431.4,181.4L432.1,181.6L432.8,181.8L433.5,182.0L434.2,182.2L435.0,182.4L435.7,182.5L436.4,182.7L437.1,182.8L437.9,182.9L438.6,183.0L439.3,183.1L440.0,183.2L440.8,183.2L441.5,183.3L442.2,183.4L442.9,183.4L443.6,183.5L444.4,183.5L445.1,183.6L445.8,183.6L446.5,183.7L447.3,183.7L448.0,183.8L448.7,183.8L449.4,183.8L450.2,183.9L450.9,183.9L451.6,183.9L452.3,184.0L453.1,184.0L453.8,184.0L454.5,184.1L455.2,184.1L455.9,184.1L456.7,184.2L457.4,184.2L458.1,184.2L458.8,184.2L459.6,184.3L460.3,184.3L461.0,184.3L461.7,184.3L462.5,184.4L463.2,184.4L463.9,184.4L464.6,184.4L465.3,184.5L466.1,184.5L466.8,184.5L467.5,184.5L468.2,184.5L469.0,184.6L469.7,184.6L470.4,184.6L471.1,184.6L471.9,184.6L472.6,184.6L473.3,184.7L474.0,184.7L474.8,184.7L475.5,184.7L476.2,184.7L476.9,184.7L477.6,184.8L478.4,184.8L479.1,184.8L479.8,184.8L480.5,184.8L481.3,184.8L482.0,184.8L482.7,184.9L483.4,184.9L484.2,184.9L484.9,184.9L485.6,184.9L486.3,184.9L487.0,185.0L487.8,185.0L488.5,185.0L489.2,185.0L489.9,185.0L490.7,185.0L491.4,185.0L492.1,185.1L492.8,185.1L493.6,185.1L494.3,185.1L495.0,185.1L495.7,185.1L496.4,185.1L497.2,185.1L497.9,185.2L498.6,185.2L499.3,185.2L500.1,185.2L500.8,185.2L501.5,185.2L502.2,185.2L503.0,185.2L503.7,185.3L504.4,185.3L505.1,185.3L505.9,185.3L506.6,185.3L507.3,185.3L508.0,185.3L508.7,185.3L509.5,185.3L510.2,185.3L510.9,185.4L511.6,185.4L512.4,185.4L513.1,185.4L513.8,185.4L514.5,185.4L515.3,185.4L516.0,185.4L516.7,185.4L517.4,185.4L518.1,185.4L518.9,185.4L519.6,185.4L520.3,185.5L521.0,185.5L521.8,185.5L522.5,185.5L523.2,185.5L523.9,185.5L524.7,185.5L525.4,185.5L526.1,185.5L526.8,185.5L527.6,185.5L528.3,185.5L529.0,185.5" fill="none" stroke="#8282ee" stroke-width="4.3" stroke-linejoin="round" stroke-linecap="round"/>
<g fill="#fff"><circle cx="312.6" cy="162.8" r="0.70" fill-opacity="0.66"/><circle cx="313.3" cy="165.3" r="0.70" fill-opacity="0.24"/><circle cx="388.4" cy="123.7" r="0.70" fill-opacity="0.18"/><circle cx="389.0" cy="126.2" r="0.70" fill-opacity="0.66"/><circle cx="389.7" cy="129.0" r="0.70" fill-opacity="0.84"/><circle cx="390.3" cy="131.8" r="0.70" fill-opacity="0.56"/><circle cx="390.9" cy="134.1" r="0.70" fill-opacity="0.35"/><circle cx="391.6" cy="136.2" r="0.70" fill-opacity="0.28"/><circle cx="392.2" cy="138.2" r="0.70" fill-opacity="0.28"/><circle cx="392.8" cy="140.2" r="0.70" fill-opacity="0.32"/><circle cx="393.5" cy="142.4" r="0.70" fill-opacity="0.47"/><circle cx="394.1" cy="145.1" r="0.70" fill-opacity="0.75"/><circle cx="394.7" cy="147.9" r="0.70" fill-opacity="0.90"/><circle cx="395.4" cy="150.8" r="0.70" fill-opacity="0.77"/><circle cx="396.0" cy="153.5" r="0.70" fill-opacity="0.45"/><circle cx="396.7" cy="155.7" r="0.70" fill-opacity="0.11"/></g>
<path d="M312.0,162.0L312.7,165.6L313.4,168.7L314.2,170.8L314.9,171.8L315.6,172.6L316.3,173.3L317.1,173.7L317.8,174.0L318.5,174.1L319.2,174.3L320.0,174.4L320.7,174.4L321.4,174.5L322.1,174.5L322.9,174.5L323.6,174.4L324.3,174.2L325.0,174.0L325.7,173.8L326.5,173.6L327.2,173.3L327.9,173.0L328.6,172.8L329.4,172.5L330.1,172.2L330.8,171.9L331.5,171.5L332.3,171.2L333.0,170.8L333.7,170.4L334.4,169.9L335.1,169.5L335.9,169.1L336.6,168.6L337.3,168.2L338.0,167.7L338.8,167.2L339.5,166.6L340.2,165.8L340.9,164.9L341.7,163.7L342.4,162.3L343.1,160.7L343.8,159.1L344.6,157.5L345.3,156.0L346.0,154.4L346.7,152.6L347.4,150.8L348.2,149.1L348.9,147.6L349.6,146.4L350.3,145.5L351.1,144.8L351.8,144.2L352.5,143.7L353.2,143.2L354.0,142.7L354.7,142.4L355.4,142.0L356.1,141.7L356.8,141.4L357.6,141.2L358.3,140.9L359.0,140.7L359.7,140.5L360.5,140.3L361.2,140.0L361.9,139.7L362.6,139.5L363.4,139.2L364.1,139.0L364.8,138.8L365.5,138.5L366.2,138.2L367.0,137.9L367.7,137.6L368.4,137.3L369.1,136.9L369.9,136.5L370.6,136.0L371.3,135.3L372.0,134.5L372.8,133.6L373.5,132.6L374.2,131.6L374.9,130.5L375.7,129.6L376.4,128.6L377.1,127.8L377.8,127.1L378.5,126.5L379.3,125.9L380.0,125.2L380.7,124.6L381.4,124.1L382.2,123.6L382.9,123.3L383.6,123.1L384.3,123.1L385.1,124.8L385.8,126.9L386.5,128.0L387.2,129.0L387.9,130.2L388.7,132.3L389.4,135.0L390.1,137.7L390.8,140.1L391.6,142.2L392.3,144.1L393.0,146.2L393.7,148.5L394.5,151.2L395.2,154.1L395.9,156.7L396.6,159.0L397.4,160.7L398.1,162.2L398.8,163.6L399.5,164.8L400.2,165.9L401.0,166.9L401.7,167.8L402.4,168.7L403.1,169.5L403.9,170.3L404.6,171.0L405.3,171.6L406.0,172.3L406.8,172.8L407.5,173.4L408.2,173.8L408.9,174.2L409.6,174.6L410.4,175.0L411.1,175.3L411.8,175.6L412.5,175.9L413.3,176.2L414.0,176.5L414.7,176.8L415.4,177.0L416.2,177.3L416.9,177.5L417.6,177.8L418.3,178.0L419.1,178.2L419.8,178.4L420.5,178.7L421.2,178.9L421.9,179.1L422.7,179.3L423.4,179.5L424.1,179.7L424.8,180.0L425.6,180.2L426.3,180.4L427.0,180.7L427.7,180.9L428.5,181.2L429.2,181.4L429.9,181.6L430.6,181.9L431.4,182.1L432.1,182.3L432.8,182.5L433.5,182.7L434.2,182.9L435.0,183.1L435.7,183.2L436.4,183.4L437.1,183.5L437.9,183.6L438.6,183.7L439.3,183.8L440.0,183.9L440.8,183.9L441.5,184.0L442.2,184.1L442.9,184.1L443.6,184.2L444.4,184.2L445.1,184.3L445.8,184.3L446.5,184.4L447.3,184.4L448.0,184.5L448.7,184.5L449.4,184.5L450.2,184.6L450.9,184.6L451.6,184.6L452.3,184.7L453.1,184.7L453.8,184.7L454.5,184.8L455.2,184.8L455.9,184.8L456.7,184.9L457.4,184.9L458.1,184.9L458.8,184.9L459.6,185.0L460.3,185.0L461.0,185.0L461.7,185.0L462.5,185.1L463.2,185.1L463.9,185.1L464.6,185.1L465.3,185.2L466.1,185.2L466.8,185.2L467.5,185.2L468.2,185.2L469.0,185.3L469.7,185.3L470.4,185.3L471.1,185.3L471.9,185.3L472.6,185.3L473.3,185.4L474.0,185.4L474.8,185.4L475.5,185.4L476.2,185.4L476.9,185.4L477.6,185.5L478.4,185.5L479.1,185.5L479.8,185.5L480.5,185.5L481.3,185.5L482.0,185.5L482.7,185.6L483.4,185.6L484.2,185.6L484.9,185.6L485.6,185.6L486.3,185.6L487.0,185.7L487.8,185.7L488.5,185.7L489.2,185.7L489.9,185.7L490.7,185.7L491.4,185.7L492.1,185.8L492.8,185.8L493.6,185.8L494.3,185.8L495.0,185.8L495.7,185.8L496.4,185.8L497.2,185.8L497.9,185.9L498.6,185.9L499.3,185.9L500.1,185.9L500.8,185.9L501.5,185.9L502.2,185.9L503.0,185.9L503.7,186.0L504.4,186.0L505.1,186.0L505.9,186.0L506.6,186.0L507.3,186.0L508.0,186.0L508.7,186.0L509.5,186.0L510.2,186.0L510.9,186.1L511.6,186.1L512.4,186.1L513.1,186.1L513.8,186.1L514.5,186.1L515.3,186.1L516.0,186.1L516.7,186.1L517.4,186.1L518.1,186.1L518.9,186.1L519.6,186.1L520.3,186.2L521.0,186.2L521.8,186.2L522.5,186.2L523.2,186.2L523.9,186.2L524.7,186.2L525.4,186.2L526.1,186.2L526.8,186.2L527.6,186.2L528.3,186.2L529.0,186.2" fill="none" stroke="#9c9cf0" stroke-width="4.3" stroke-linejoin="round" stroke-linecap="round"/>
<g fill="#fff"><circle cx="312.6" cy="165.2" r="0.70" fill-opacity="0.90"/><circle cx="313.3" cy="168.0" r="0.70" fill-opacity="0.40"/><circle cx="347.0" cy="151.9" r="0.70" fill-opacity="0.01"/><circle cx="385.2" cy="125.3" r="0.70" fill-opacity="0.10"/><circle cx="388.4" cy="131.4" r="0.70" fill-opacity="0.01"/><circle cx="389.0" cy="133.6" r="0.70" fill-opacity="0.42"/><circle cx="389.7" cy="136.0" r="0.70" fill-opacity="0.57"/><circle cx="390.3" cy="138.4" r="0.70" fill-opacity="0.33"/><circle cx="390.9" cy="140.4" r="0.70" fill-opacity="0.15"/><circle cx="391.6" cy="142.2" r="0.70" fill-opacity="0.10"/><circle cx="392.2" cy="143.9" r="0.70" fill-opacity="0.10"/><circle cx="392.8" cy="145.7" r="0.70" fill-opacity="0.13"/><circle cx="393.5" cy="147.6" r="0.70" fill-opacity="0.26"/><circle cx="394.1" cy="149.9" r="0.70" fill-opacity="0.50"/><circle cx="394.7" cy="152.4" r="0.70" fill-opacity="0.64"/><circle cx="395.4" cy="154.8" r="0.70" fill-opacity="0.51"/><circle cx="396.0" cy="157.1" r="0.70" fill-opacity="0.23"/></g>
<path d="M312.0,165.0L312.7,169.1L313.4,172.0L314.2,174.2L314.9,175.8L315.6,176.6L316.3,177.0L317.1,177.3L317.8,177.5L318.5,177.7L319.2,177.9L320.0,178.0L320.7,178.0L321.4,178.0L322.1,178.0L322.9,178.0L323.6,177.9L324.3,177.9L325.0,177.9L325.7,177.8L326.5,177.8L327.2,177.7L327.9,177.6L328.6,177.6L329.4,177.5L330.1,177.4L330.8,177.3L331.5,177.1L332.3,176.8L333.0,176.5L333.7,176.2L334.4,175.9L335.1,175.5L335.9,175.1L336.6,174.7L337.3,174.2L338.0,173.8L338.8,173.3L339.5,172.9L340.2,172.4L340.9,171.9L341.7,171.3L342.4,170.6L343.1,169.9L343.8,169.2L344.6,168.4L345.3,167.6L346.0,166.8L346.7,166.0L347.4,165.2L348.2,164.4L348.9,163.7L349.6,163.0L350.3,162.4L351.1,161.7L351.8,161.1L352.5,160.5L353.2,160.0L354.0,159.4L354.7,158.8L355.4,158.2L356.1,157.6L356.8,157.0L357.6,156.4L358.3,155.7L359.0,155.1L359.7,154.4L360.5,153.7L361.2,153.0L361.9,152.3L362.6,151.6L363.4,150.8L364.1,150.1L364.8,149.4L365.5,148.6L366.2,147.9L367.0,147.2L367.7,146.5L368.4,145.7L369.1,144.9L369.9,144.1L370.6,143.4L371.3,142.6L372.0,141.8L372.8,141.1L373.5,140.4L374.2,139.7L374.9,139.1L375.7,138.6L376.4,138.1L377.1,137.6L377.8,137.0L378.5,136.5L379.3,136.0L380.0,135.5L380.7,135.0L381.4,134.6L382.2,134.2L382.9,133.9L383.6,133.6L384.3,133.4L385.1,133.3L385.8,133.3L386.5,133.6L387.2,134.0L387.9,134.7L388.7,135.6L389.4,136.5L390.1,137.6L390.8,138.7L391.6,139.9L392.3,141.2L393.0,142.8L393.7,144.7L394.5,146.9L395.2,149.2L395.9,151.6L396.6,154.1L397.4,156.5L398.1,159.1L398.8,162.1L399.5,165.0L400.2,167.5L401.0,169.3L401.7,170.7L402.4,172.0L403.1,173.2L403.9,174.3L404.6,175.2L405.3,176.1L406.0,176.9L406.8,177.6L407.5,178.1L408.2,178.6L408.9,179.0L409.6,179.4L410.4,179.7L411.1,180.1L411.8,180.4L412.5,180.7L413.3,181.0L414.0,181.2L414.7,181.5L415.4,181.7L416.2,181.9L416.9,182.0L417.6,182.2L418.3,182.4L419.1,182.5L419.8,182.6L420.5,182.7L421.2,182.9L421.9,183.0L422.7,183.1L423.4,183.2L424.1,183.3L424.8,183.4L425.6,183.5L426.3,183.6L427.0,183.7L427.7,183.8L428.5,183.9L429.2,184.0L429.9,184.0L430.6,184.1L431.4,184.2L432.1,184.3L432.8,184.3L433.5,184.4L434.2,184.5L435.0,184.5L435.7,184.6L436.4,184.6L437.1,184.7L437.9,184.7L438.6,184.8L439.3,184.8L440.0,184.9L440.8,184.9L441.5,185.0L442.2,185.0L442.9,185.0L443.6,185.1L444.4,185.1L445.1,185.1L445.8,185.2L446.5,185.2L447.3,185.2L448.0,185.3L448.7,185.3L449.4,185.3L450.2,185.4L450.9,185.4L451.6,185.4L452.3,185.5L453.1,185.5L453.8,185.5L454.5,185.5L455.2,185.6L455.9,185.6L456.7,185.6L457.4,185.6L458.1,185.7L458.8,185.7L459.6,185.7L460.3,185.7L461.0,185.7L461.7,185.8L462.5,185.8L463.2,185.8L463.9,185.8L464.6,185.8L465.3,185.9L466.1,185.9L466.8,185.9L467.5,185.9L468.2,185.9L469.0,185.9L469.7,186.0L470.4,186.0L471.1,186.0L471.9,186.0L472.6,186.0L473.3,186.1L474.0,186.1L474.8,186.1L475.5,186.1L476.2,186.1L476.9,186.1L477.6,186.2L478.4,186.2L479.1,186.2L479.8,186.2L480.5,186.2L481.3,186.2L482.0,186.3L482.7,186.3L483.4,186.3L484.2,186.3L484.9,186.3L485.6,186.3L486.3,186.4L487.0,186.4L487.8,186.4L488.5,186.4L489.2,186.4L489.9,186.4L490.7,186.4L491.4,186.5L492.1,186.5L492.8,186.5L493.6,186.5L494.3,186.5L495.0,186.5L495.7,186.5L496.4,186.6L497.2,186.6L497.9,186.6L498.6,186.6L499.3,186.6L500.1,186.6L500.8,186.6L501.5,186.7L502.2,186.7L503.0,186.7L503.7,186.7L504.4,186.7L505.1,186.7L505.9,186.7L506.6,186.7L507.3,186.8L508.0,186.8L508.7,186.8L509.5,186.8L510.2,186.8L510.9,186.8L511.6,186.8L512.4,186.8L513.1,186.8L513.8,186.9L514.5,186.9L515.3,186.9L516.0,186.9L516.7,186.9L517.4,186.9L518.1,186.9L518.9,186.9L519.6,186.9L520.3,186.9L521.0,186.9L521.8,186.9L522.5,187.0L523.2,187.0L523.9,187.0L524.7,187.0L525.4,187.0L526.1,187.0L526.8,187.0L527.6,187.0L528.3,187.0L529.0,187.0" fill="none" stroke="#f28a8a" stroke-width="4.3" stroke-linejoin="round" stroke-linecap="round"/>
<g fill="#fff"><circle cx="312.6" cy="168.7" r="0.70" fill-opacity="0.80"/><circle cx="313.3" cy="171.4" r="0.70" fill-opacity="0.33"/><circle cx="313.9" cy="173.4" r="0.70" fill-opacity="0.08"/><circle cx="393.5" cy="144.0" r="0.70" fill-opacity="0.03"/><circle cx="394.1" cy="145.8" r="0.70" fill-opacity="0.17"/><circle cx="394.7" cy="147.8" r="0.70" fill-opacity="0.29"/><circle cx="395.4" cy="149.9" r="0.70" fill-opacity="0.36"/><circle cx="396.0" cy="152.0" r="0.70" fill-opacity="0.41"/><circle cx="396.7" cy="154.2" r="0.70" fill-opacity="0.38"/><circle cx="397.3" cy="156.3" r="0.70" fill-opacity="0.38"/><circle cx="397.9" cy="158.6" r="0.70" fill-opacity="0.49"/><circle cx="398.6" cy="161.1" r="0.70" fill-opacity="0.70"/><circle cx="399.2" cy="163.7" r="0.70" fill-opacity="0.61"/><circle cx="399.8" cy="166.2" r="0.70" fill-opacity="0.30"/></g>
<path d="M312.0,170.0L312.7,174.2L313.4,176.8L314.2,178.7L314.9,180.0L315.6,180.6L316.3,180.8L317.1,181.0L317.8,181.2L318.5,181.3L319.2,181.4L320.0,181.5L320.7,181.5L321.4,181.5L322.1,181.5L322.9,181.5L323.6,181.4L324.3,181.4L325.0,181.3L325.7,181.3L326.5,181.2L327.2,181.2L327.9,181.1L328.6,181.1L329.4,181.0L330.1,180.9L330.8,180.9L331.5,180.8L332.3,180.7L333.0,180.7L333.7,180.6L334.4,180.5L335.1,180.4L335.9,180.3L336.6,180.2L337.3,180.0L338.0,179.9L338.8,179.8L339.5,179.6L340.2,179.5L340.9,179.3L341.7,179.0L342.4,178.8L343.1,178.5L343.8,178.1L344.6,177.8L345.3,177.4L346.0,177.0L346.7,176.6L347.4,176.2L348.2,175.8L348.9,175.4L349.6,175.0L350.3,174.6L351.1,174.2L351.8,173.8L352.5,173.4L353.2,173.0L354.0,172.5L354.7,172.1L355.4,171.7L356.1,171.2L356.8,170.8L357.6,170.3L358.3,169.8L359.0,169.3L359.7,168.8L360.5,168.3L361.2,167.8L361.9,167.2L362.6,166.7L363.4,166.1L364.1,165.5L364.8,165.0L365.5,164.4L366.2,163.9L367.0,163.3L367.7,162.8L368.4,162.2L369.1,161.7L369.9,161.2L370.6,160.7L371.3,160.2L372.0,159.7L372.8,159.3L373.5,158.8L374.2,158.4L374.9,157.9L375.7,157.5L376.4,157.1L377.1,156.7L377.8,156.2L378.5,155.8L379.3,155.4L380.0,155.0L380.7,154.7L381.4,154.3L382.2,153.9L382.9,153.6L383.6,153.3L384.3,153.0L385.1,152.7L385.8,152.4L386.5,152.1L387.2,151.8L387.9,151.6L388.7,151.4L389.4,151.2L390.1,151.2L390.8,151.4L391.6,151.9L392.3,152.7L393.0,153.8L393.7,155.0L394.5,156.3L395.2,157.7L395.9,159.2L396.6,160.6L397.4,161.9L398.1,163.3L398.8,164.8L399.5,166.5L400.2,168.1L401.0,169.7L401.7,171.2L402.4,172.4L403.1,173.4L403.9,174.4L404.6,175.3L405.3,176.2L406.0,177.0L406.8,177.8L407.5,178.5L408.2,179.1L408.9,179.7L409.6,180.1L410.4,180.5L411.1,180.8L411.8,181.1L412.5,181.3L413.3,181.6L414.0,181.8L414.7,182.0L415.4,182.2L416.2,182.4L416.9,182.6L417.6,182.7L418.3,182.9L419.1,183.0L419.8,183.2L420.5,183.3L421.2,183.4L421.9,183.5L422.7,183.6L423.4,183.7L424.1,183.8L424.8,183.9L425.6,184.0L426.3,184.1L427.0,184.2L427.7,184.3L428.5,184.4L429.2,184.4L429.9,184.5L430.6,184.6L431.4,184.7L432.1,184.7L432.8,184.8L433.5,184.9L434.2,184.9L435.0,185.0L435.7,185.1L436.4,185.1L437.1,185.2L437.9,185.2L438.6,185.3L439.3,185.3L440.0,185.4L440.8,185.4L441.5,185.5L442.2,185.5L442.9,185.5L443.6,185.6L444.4,185.6L445.1,185.6L445.8,185.7L446.5,185.7L447.3,185.7L448.0,185.8L448.7,185.8L449.4,185.8L450.2,185.9L450.9,185.9L451.6,185.9L452.3,186.0L453.1,186.0L453.8,186.0L454.5,186.0L455.2,186.1L455.9,186.1L456.7,186.1L457.4,186.1L458.1,186.2L458.8,186.2L459.6,186.2L460.3,186.2L461.0,186.3L461.7,186.3L462.5,186.3L463.2,186.3L463.9,186.3L464.6,186.3L465.3,186.4L466.1,186.4L466.8,186.4L467.5,186.4L468.2,186.4L469.0,186.5L469.7,186.5L470.4,186.5L471.1,186.5L471.9,186.5L472.6,186.5L473.3,186.5L474.0,186.6L474.8,186.6L475.5,186.6L476.2,186.6L476.9,186.6L477.6,186.6L478.4,186.6L479.1,186.7L479.8,186.7L480.5,186.7L481.3,186.7L482.0,186.7L482.7,186.7L483.4,186.8L484.2,186.8L484.9,186.8L485.6,186.8L486.3,186.8L487.0,186.8L487.8,186.8L488.5,186.8L489.2,186.9L489.9,186.9L490.7,186.9L491.4,186.9L492.1,186.9L492.8,186.9L493.6,186.9L494.3,187.0L495.0,187.0L495.7,187.0L496.4,187.0L497.2,187.0L497.9,187.0L498.6,187.0L499.3,187.0L500.1,187.1L500.8,187.1L501.5,187.1L502.2,187.1L503.0,187.1L503.7,187.1L504.4,187.1L505.1,187.1L505.9,187.1L506.6,187.1L507.3,187.2L508.0,187.2L508.7,187.2L509.5,187.2L510.2,187.2L510.9,187.2L511.6,187.2L512.4,187.2L513.1,187.2L513.8,187.2L514.5,187.2L515.3,187.2L516.0,187.2L516.7,187.2L517.4,187.3L518.1,187.3L518.9,187.3L519.6,187.3L520.3,187.3L521.0,187.3L521.8,187.3L522.5,187.3L523.2,187.3L523.9,187.3L524.7,187.3L525.4,187.3L526.1,187.3L526.8,187.3L527.6,187.3L528.3,187.3L529.0,187.3" fill="none" stroke="#f07070" stroke-width="4.3" stroke-linejoin="round" stroke-linecap="round"/>
<g fill="#fff"><circle cx="312.6" cy="173.8" r="0.70" fill-opacity="0.70"/><circle cx="313.3" cy="176.3" r="0.70" fill-opacity="0.11"/></g>
<path d="M312.0,175.0L312.7,178.6L313.4,180.6L314.2,181.8L314.9,182.6L315.6,183.1L316.3,183.3L317.1,183.5L317.8,183.7L318.5,183.8L319.2,183.9L320.0,184.0L320.7,184.0L321.4,184.0L322.1,184.0L322.9,184.0L323.6,183.9L324.3,183.9L325.0,183.9L325.7,183.8L326.5,183.8L327.2,183.7L327.9,183.7L328.6,183.6L329.4,183.6L330.1,183.5L330.8,183.4L331.5,183.4L332.3,183.3L333.0,183.2L333.7,183.1L334.4,183.1L335.1,183.0L335.9,182.9L336.6,182.8L337.3,182.8L338.0,182.7L338.8,182.6L339.5,182.5L340.2,182.4L340.9,182.3L341.7,182.1L342.4,182.0L343.1,181.9L343.8,181.8L344.6,181.6L345.3,181.5L346.0,181.3L346.7,181.2L347.4,181.0L348.2,180.9L348.9,180.7L349.6,180.6L350.3,180.4L351.1,180.2L351.8,180.1L352.5,179.9L353.2,179.7L354.0,179.5L354.7,179.4L355.4,179.2L356.1,179.0L356.8,178.8L357.6,178.6L358.3,178.4L359.0,178.2L359.7,178.0L360.5,177.7L361.2,177.4L361.9,177.1L362.6,176.8L363.4,176.5L364.1,176.2L364.8,175.9L365.5,175.6L366.2,175.3L367.0,175.0L367.7,174.7L368.4,174.5L369.1,174.3L369.9,174.1L370.6,173.9L371.3,173.8L372.0,173.6L372.8,173.5L373.5,173.4L374.2,173.3L374.9,173.1L375.7,173.0L376.4,172.8L377.1,172.7L377.8,172.5L378.5,172.3L379.3,172.1L380.0,171.8L380.7,171.6L381.4,171.4L382.2,171.1L382.9,170.9L383.6,170.7L384.3,170.5L385.1,170.2L385.8,170.0L386.5,169.9L387.2,169.7L387.9,169.5L388.7,169.4L389.4,169.3L390.1,169.2L390.8,169.1L391.6,169.1L392.3,169.1L393.0,169.3L393.7,169.5L394.5,169.9L395.2,170.3L395.9,170.8L396.6,171.4L397.4,172.0L398.1,172.6L398.8,173.3L399.5,173.9L400.2,174.5L401.0,175.1L401.7,175.6L402.4,176.1L403.1,176.5L403.9,177.0L404.6,177.4L405.3,177.8L406.0,178.3L406.8,178.7L407.5,179.1L408.2,179.5L408.9,179.8L409.6,180.2L410.4,180.5L411.1,180.8L411.8,181.1L412.5,181.4L413.3,181.6L414.0,181.9L414.7,182.1L415.4,182.4L416.2,182.6L416.9,182.8L417.6,183.0L418.3,183.2L419.1,183.4L419.8,183.6L420.5,183.7L421.2,183.9L421.9,184.0L422.7,184.1L423.4,184.2L424.1,184.3L424.8,184.4L425.6,184.5L426.3,184.6L427.0,184.7L427.7,184.8L428.5,184.9L429.2,185.0L429.9,185.1L430.6,185.2L431.4,185.2L432.1,185.3L432.8,185.4L433.5,185.5L434.2,185.5L435.0,185.6L435.7,185.6L436.4,185.7L437.1,185.7L437.9,185.8L438.6,185.8L439.3,185.9L440.0,185.9L440.8,185.9L441.5,186.0L442.2,186.0L442.9,186.0L443.6,186.0L444.4,186.1L445.1,186.1L445.8,186.1L446.5,186.1L447.3,186.2L448.0,186.2L448.7,186.2L449.4,186.2L450.2,186.2L450.9,186.3L451.6,186.3L452.3,186.3L453.1,186.3L453.8,186.4L454.5,186.4L455.2,186.4L455.9,186.4L456.7,186.4L457.4,186.5L458.1,186.5L458.8,186.5L459.6,186.5L460.3,186.5L461.0,186.5L461.7,186.6L462.5,186.6L463.2,186.6L463.9,186.6L464.6,186.6L465.3,186.7L466.1,186.7L466.8,186.7L467.5,186.7L468.2,186.7L469.0,186.7L469.7,186.8L470.4,186.8L471.1,186.8L471.9,186.8L472.6,186.8L473.3,186.8L474.0,186.8L474.8,186.9L475.5,186.9L476.2,186.9L476.9,186.9L477.6,186.9L478.4,186.9L479.1,186.9L479.8,187.0L480.5,187.0L481.3,187.0L482.0,187.0L482.7,187.0L483.4,187.0L484.2,187.0L484.9,187.0L485.6,187.1L486.3,187.1L487.0,187.1L487.8,187.1L488.5,187.1L489.2,187.1L489.9,187.1L490.7,187.1L491.4,187.1L492.1,187.2L492.8,187.2L493.6,187.2L494.3,187.2L495.0,187.2L495.7,187.2L496.4,187.2L497.2,187.2L497.9,187.2L498.6,187.2L499.3,187.2L500.1,187.2L500.8,187.3L501.5,187.3L502.2,187.3L503.0,187.3L503.7,187.3L504.4,187.3L505.1,187.3L505.9,187.3L506.6,187.3L507.3,187.3L508.0,187.3L508.7,187.3L509.5,187.3L510.2,187.3L510.9,187.3L511.6,187.3L512.4,187.3L513.1,187.4L513.8,187.4L514.5,187.4L515.3,187.4L516.0,187.4L516.7,187.4L517.4,187.4L518.1,187.4L518.9,187.4L519.6,187.4L520.3,187.4L521.0,187.4L521.8,187.4L522.5,187.4L523.2,187.4L523.9,187.4L524.7,187.4L525.4,187.4L526.1,187.4L526.8,187.4L527.6,187.4L528.3,187.4L529.0,187.4" fill="none" stroke="#f05252" stroke-width="4.3" stroke-linejoin="round" stroke-linecap="round"/>
<g fill="#fff"><circle cx="312.6" cy="178.2" r="0.70" fill-opacity="0.31"/></g>
<path d="M312.0,182.0L312.7,183.0L313.4,183.9L314.2,184.7L314.9,185.0L315.6,185.1L316.3,185.1L317.1,185.2L317.8,185.2L318.5,185.3L319.2,185.3L320.0,185.4L320.7,185.4L321.4,185.4L322.1,185.4L322.9,185.5L323.6,185.5L324.3,185.5L325.0,185.5L325.7,185.5L326.5,185.5L327.2,185.5L327.9,185.5L328.6,185.5L329.4,185.5L330.1,185.5L330.8,185.5L331.5,185.5L332.3,185.5L333.0,185.5L333.7,185.5L334.4,185.5L335.1,185.5L335.9,185.5L336.6,185.5L337.3,185.5L338.0,185.5L338.8,185.5L339.5,185.5L340.2,185.5L340.9,185.5L341.7,185.5L342.4,185.5L343.1,185.5L343.8,185.5L344.6,185.5L345.3,185.5L346.0,185.5L346.7,185.5L347.4,185.5L348.2,185.5L348.9,185.5L349.6,185.5L350.3,185.5L351.1,185.5L351.8,185.5L352.5,185.5L353.2,185.5L354.0,185.5L354.7,185.5L355.4,185.5L356.1,185.5L356.8,185.5L357.6,185.5L358.3,185.5L359.0,185.5L359.7,185.4L360.5,185.4L361.2,185.4L361.9,185.4L362.6,185.4L363.4,185.3L364.1,185.3L364.8,185.3L365.5,185.2L366.2,185.2L367.0,185.2L367.7,185.1L368.4,185.1L369.1,185.1L369.9,185.0L370.6,185.0L371.3,184.9L372.0,184.9L372.8,184.9L373.5,184.8L374.2,184.8L374.9,184.7L375.7,184.7L376.4,184.6L377.1,184.6L377.8,184.5L378.5,184.5L379.3,184.5L380.0,184.4L380.7,184.3L381.4,184.3L382.2,184.2L382.9,184.1L383.6,184.0L384.3,183.9L385.1,183.8L385.8,183.7L386.5,183.7L387.2,183.6L387.9,183.5L388.7,183.4L389.4,183.4L390.1,183.3L390.8,183.3L391.6,183.2L392.3,183.2L393.0,183.2L393.7,183.2L394.5,183.2L395.2,183.3L395.9,183.4L396.6,183.4L397.4,183.5L398.1,183.6L398.8,183.7L399.5,183.8L400.2,184.0L401.0,184.1L401.7,184.2L402.4,184.3L403.1,184.5L403.9,184.6L404.6,184.7L405.3,184.8L406.0,184.9L406.8,184.9L407.5,185.0L408.2,185.1L408.9,185.1L409.6,185.2L410.4,185.2L411.1,185.2L411.8,185.3L412.5,185.3L413.3,185.4L414.0,185.4L414.7,185.5L415.4,185.5L416.2,185.5L416.9,185.6L417.6,185.6L418.3,185.7L419.1,185.7L419.8,185.7L420.5,185.8L421.2,185.8L421.9,185.8L422.7,185.8L423.4,185.9L424.1,185.9L424.8,185.9L425.6,185.9L426.3,186.0L427.0,186.0L427.7,186.0L428.5,186.0L429.2,186.0L429.9,186.1L430.6,186.1L431.4,186.1L432.1,186.1L432.8,186.1L433.5,186.1L434.2,186.2L435.0,186.2L435.7,186.2L436.4,186.2L437.1,186.2L437.9,186.3L438.6,186.3L439.3,186.3L440.0,186.3L440.8,186.3L441.5,186.3L442.2,186.4L442.9,186.4L443.6,186.4L444.4,186.4L445.1,186.4L445.8,186.4L446.5,186.5L447.3,186.5L448.0,186.5L448.7,186.5L449.4,186.5L450.2,186.5L450.9,186.6L451.6,186.6L452.3,186.6L453.1,186.6L453.8,186.6L454.5,186.6L455.2,186.6L455.9,186.7L456.7,186.7L457.4,186.7L458.1,186.7L458.8,186.7L459.6,186.7L460.3,186.8L461.0,186.8L461.7,186.8L462.5,186.8L463.2,186.8L463.9,186.8L464.6,186.8L465.3,186.9L466.1,186.9L466.8,186.9L467.5,186.9L468.2,186.9L469.0,186.9L469.7,186.9L470.4,186.9L471.1,187.0L471.9,187.0L472.6,187.0L473.3,187.0L474.0,187.0L474.8,187.0L475.5,187.0L476.2,187.0L476.9,187.1L477.6,187.1L478.4,187.1L479.1,187.1L479.8,187.1L480.5,187.1L481.3,187.1L482.0,187.1L482.7,187.1L483.4,187.2L484.2,187.2L484.9,187.2L485.6,187.2L486.3,187.2L487.0,187.2L487.8,187.2L488.5,187.2L489.2,187.2L489.9,187.2L490.7,187.3L491.4,187.3L492.1,187.3L492.8,187.3L493.6,187.3L494.3,187.3L495.0,187.3L495.7,187.3L496.4,187.3L497.2,187.3L497.9,187.3L498.6,187.3L499.3,187.3L500.1,187.4L500.8,187.4L501.5,187.4L502.2,187.4L503.0,187.4L503.7,187.4L504.4,187.4L505.1,187.4L505.9,187.4L506.6,187.4L507.3,187.4L508.0,187.4L508.7,187.4L509.5,187.4L510.2,187.4L510.9,187.4L511.6,187.4L512.4,187.5L513.1,187.5L513.8,187.5L514.5,187.5L515.3,187.5L516.0,187.5L516.7,187.5L517.4,187.5L518.1,187.5L518.9,187.5L519.6,187.5L520.3,187.5L521.0,187.5L521.8,187.5L522.5,187.5L523.2,187.5L523.9,187.5L524.7,187.5L525.4,187.5L526.1,187.5L526.8,187.5L527.6,187.5L528.3,187.5L529.0,187.5" fill="none" stroke="#f02828" stroke-width="4.3" stroke-linejoin="round" stroke-linecap="round"/>
<path d="M312.0,187.0L312.7,187.0L313.4,187.0L314.2,187.0L314.9,187.0L315.6,187.1L316.3,187.1L317.1,187.1L317.8,187.1L318.5,187.1L319.2,187.1L320.0,187.1L320.7,187.1L321.4,187.1L322.1,187.1L322.9,187.2L323.6,187.2L324.3,187.2L325.0,187.2L325.7,187.2L326.5,187.2L327.2,187.2L327.9,187.2L328.6,187.2L329.4,187.2L330.1,187.2L330.8,187.3L331.5,187.3L332.3,187.3L333.0,187.3L333.7,187.3L334.4,187.3L335.1,187.3L335.9,187.3L336.6,187.3L337.3,187.3L338.0,187.3L338.8,187.3L339.5,187.4L340.2,187.4L340.9,187.4L341.7,187.4L342.4,187.4L343.1,187.4L343.8,187.4L344.6,187.4L345.3,187.4L346.0,187.4L346.7,187.4L347.4,187.4L348.2,187.4L348.9,187.4L349.6,187.5L350.3,187.5L351.1,187.5L351.8,187.5L352.5,187.5L353.2,187.5L354.0,187.5L354.7,187.5L355.4,187.5L356.1,187.5L356.8,187.5L357.6,187.5L358.3,187.5L359.0,187.5L359.7,187.5L360.5,187.5L361.2,187.5L361.9,187.5L362.6,187.6L363.4,187.6L364.1,187.6L364.8,187.6L365.5,187.6L366.2,187.6L367.0,187.6L367.7,187.6L368.4,187.6L369.1,187.6L369.9,187.6L370.6,187.6L371.3,187.6L372.0,187.6L372.8,187.6L373.5,187.6L374.2,187.6L374.9,187.6L375.7,187.6L376.4,187.6L377.1,187.6L377.8,187.6L378.5,187.7L379.3,187.7L380.0,187.7L380.7,187.7L381.4,187.7L382.2,187.7L382.9,187.7L383.6,187.7L384.3,187.7L385.1,187.7L385.8,187.7L386.5,187.7L387.2,187.7L387.9,187.7L388.7,187.7L389.4,187.7L390.1,187.7L390.8,187.7L391.6,187.7L392.3,187.7L393.0,187.7L393.7,187.7L394.5,187.7L395.2,187.7L395.9,187.7L396.6,187.7L397.4,187.7L398.1,187.7L398.8,187.8L399.5,187.8L400.2,187.8L401.0,187.8L401.7,187.8L402.4,187.8L403.1,187.8L403.9,187.8L404.6,187.8L405.3,187.8L406.0,187.8L406.8,187.8L407.5,187.8L408.2,187.8L408.9,187.8L409.6,187.8L410.4,187.8L411.1,187.8L411.8,187.8L412.5,187.8L413.3,187.8L414.0,187.8L414.7,187.8L415.4,187.8L416.2,187.8L416.9,187.8L417.6,187.8L418.3,187.8L419.1,187.8L419.8,187.8L420.5,187.8L421.2,187.8L421.9,187.8L422.7,187.8L423.4,187.8L424.1,187.8L424.8,187.8L425.6,187.8L426.3,187.8L427.0,187.8L427.7,187.8L428.5,187.8L429.2,187.8L429.9,187.8L430.6,187.8L431.4,187.8L432.1,187.9L432.8,187.9L433.5,187.9L434.2,187.9L435.0,187.9L435.7,187.9L436.4,187.9L437.1,187.9L437.9,187.9L438.6,187.9L439.3,187.9L440.0,187.9L440.8,187.9L441.5,187.9L442.2,187.9L442.9,187.9L443.6,187.9L444.4,187.9L445.1,187.9L445.8,187.9L446.5,187.9L447.3,187.9L448.0,187.9L448.7,187.9L449.4,187.9L450.2,187.9L450.9,187.9L451.6,187.9L452.3,187.9L453.1,187.9L453.8,187.9L454.5,187.9L455.2,187.9L455.9,187.9L456.7,187.9L457.4,187.9L458.1,187.9L458.8,187.9L459.6,187.9L460.3,187.9L461.0,187.9L461.7,187.9L462.5,187.9L463.2,187.9L463.9,187.9L464.6,187.9L465.3,187.9L466.1,187.9L466.8,187.9L467.5,187.9L468.2,187.9L469.0,187.9L469.7,187.9L470.4,187.9L471.1,187.9L471.9,187.9L472.6,187.9L473.3,187.9L474.0,187.9L474.8,187.9L475.5,187.9L476.2,187.9L476.9,188.0L477.6,188.0L478.4,188.0L479.1,188.0L479.8,188.0L480.5,188.0L481.3,188.0L482.0,188.0L482.7,188.0L483.4,188.0L484.2,188.0L484.9,188.0L485.6,188.0L486.3,188.0L487.0,188.0L487.8,188.0L488.5,188.0L489.2,188.0L489.9,188.0L490.7,188.0L491.4,188.0L492.1,188.0L492.8,188.0L493.6,188.0L494.3,188.0L495.0,188.0L495.7,188.0L496.4,188.0L497.2,188.0L497.9,188.0L498.6,188.0L499.3,188.0L500.1,188.0L500.8,188.0L501.5,188.0L502.2,188.0L503.0,188.0L503.7,188.0L504.4,188.0L505.1,188.0L505.9,188.0L506.6,188.0L507.3,188.0L508.0,188.0L508.7,188.0L509.5,188.0L510.2,188.0L510.9,188.0L511.6,188.0L512.4,188.0L513.1,188.0L513.8,188.0L514.5,188.0L515.3,188.0L516.0,188.0L516.7,188.0L517.4,188.0L518.1,188.0L518.9,188.0L519.6,188.0L520.3,188.0L521.0,188.0L521.8,188.0L522.5,188.0L523.2,188.0L523.9,188.0L524.7,188.0L525.4,188.0L526.1,188.0L526.8,188.0L527.6,188.0L528.3,188.0L529.0,188.0" fill="none" stroke="#f00808" stroke-width="5.6" stroke-linejoin="round" stroke-linecap="round"/>
</g>
<path d="M28.0,411.0L28.8,411.1L29.5,411.2L30.2,411.3L31.0,411.4L31.8,411.5L32.5,411.6L33.2,411.7L34.0,411.8L34.8,411.9L35.5,412.0L36.2,412.1L37.0,412.2L37.8,412.3L38.5,412.4L39.2,412.5L40.0,412.6L40.8,412.7L41.5,412.8L42.2,412.9L43.0,413.0L43.8,413.1L44.5,413.1L45.2,413.2L46.0,413.3L46.8,413.4L47.5,413.5L48.2,413.6L49.0,413.7L49.8,413.8L50.5,413.9L51.2,414.0L52.0,414.1L52.8,414.1L53.5,414.2L54.2,414.3L55.0,414.4L55.8,414.5L56.5,414.6L57.2,414.7L58.0,414.8L58.8,414.9L59.5,415.1L60.2,415.2L61.0,415.3L61.8,415.4L62.5,415.6L63.2,415.7L64.0,415.8L64.8,415.9L65.5,416.0L66.2,416.1L67.0,416.2L67.8,416.3L68.5,416.4L69.2,416.4L70.0,416.5L70.8,416.6L71.5,416.6L72.2,416.7L73.0,416.7L73.8,416.8L74.5,416.8L75.2,416.8L76.0,416.8L76.8,416.6L77.5,416.2L78.2,415.6L79.0,415.0L79.8,414.2L80.5,413.5L81.2,412.5L82.0,411.3L82.8,409.9L83.5,408.5L84.2,406.9L85.0,405.2L85.8,403.6L86.5,401.9L87.2,400.1L88.0,398.1L88.8,396.0L89.5,393.7L90.2,391.1L91.0,388.2L91.8,384.8L92.5,381.2L93.2,377.4L94.0,373.5L94.8,368.9L95.5,364.1L96.2,359.7L97.0,356.0L97.8,352.6L98.5,349.7L99.2,347.0L100.0,344.5L100.8,342.4L101.5,341.0L102.2,340.1L103.0,339.3L103.8,338.8L104.5,338.7L105.2,339.6L106.0,341.4L106.8,343.8L107.5,346.4L108.2,349.1L109.0,352.7L109.8,356.9L110.5,361.8L111.2,367.7L112.0,372.7L112.8,377.2L113.5,381.1L114.2,384.6L115.0,388.5L115.8,392.2L116.5,395.7L117.2,399.3L118.0,402.6L118.8,405.6L119.5,408.0L120.2,410.2L121.0,412.2L121.8,414.2L122.5,415.9L123.2,417.4L124.0,418.8L124.8,419.8L125.5,420.6L126.2,421.3L127.0,422.0L127.8,422.6L128.5,423.2L129.2,423.7L130.0,424.1L130.8,424.5L131.5,424.9L132.2,425.1L133.0,425.4L133.8,425.5L134.5,425.7L135.2,425.8L136.0,425.9L136.8,426.0L137.5,426.1L138.2,426.2L139.0,426.3L139.8,426.4L140.5,426.5L141.2,426.5L142.0,426.6L142.8,426.7L143.5,426.8L144.2,426.9L145.0,427.0L145.8,427.1L146.5,427.2L147.2,427.3L148.0,427.4L148.8,427.6L149.5,427.7L150.2,427.9L151.0,428.0L151.8,428.2L152.5,428.3L153.2,428.5L154.0,428.6L154.8,428.8L155.5,428.9L156.2,429.0L157.0,429.1L157.8,429.2L158.5,429.3L159.2,429.4L160.0,429.5L160.8,429.6L161.5,429.6L162.2,429.7L163.0,429.7L163.8,429.8L164.5,429.9L165.2,429.9L166.0,430.0L166.8,430.0L167.5,430.1L168.2,430.1L169.0,430.2L169.8,430.2L170.5,430.3L171.2,430.3L172.0,430.4L172.8,430.4L173.5,430.5L174.2,430.5L175.0,430.5L175.8,430.6L176.5,430.6L177.2,430.7L178.0,430.7L178.8,430.7L179.5,430.8L180.2,430.8L181.0,430.8L181.8,430.9L182.5,430.9L183.2,430.9L184.0,431.0L184.8,431.0L185.5,431.0L186.2,431.1L187.0,431.1L187.8,431.1L188.5,431.1L189.2,431.2L190.0,431.2L190.8,431.2L191.5,431.2L192.2,431.3L193.0,431.3L193.8,431.3L194.5,431.3L195.2,431.4L196.0,431.4L196.8,431.4L197.5,431.4L198.2,431.5L199.0,431.5L199.8,431.5L200.5,431.5L201.2,431.5L202.0,431.6L202.8,431.6L203.5,431.6L204.2,431.6L205.0,431.6L205.8,431.7L206.5,431.7L207.2,431.7L208.0,431.7L208.8,431.7L209.5,431.8L210.2,431.8L211.0,431.8L211.8,431.8L212.5,431.8L213.2,431.8L214.0,431.9L214.8,431.9L215.5,431.9L216.2,431.9L217.0,431.9L217.8,432.0L218.5,432.0L219.2,432.0L220.0,432.0L220.8,432.0L221.5,432.0L222.2,432.0L223.0,432.1L223.8,432.1L224.5,432.1L225.2,432.1L226.0,432.1L226.8,432.1L227.5,432.1L228.2,432.2L229.0,432.2L229.8,432.2L230.5,432.2L231.2,432.2L232.0,432.2L232.8,432.2L233.5,432.2L234.2,432.2L235.0,432.2L235.8,432.3L236.5,432.3L237.2,432.3L238.0,432.3L238.8,432.3L239.5,432.3L240.2,432.3L241.0,432.3L241.8,432.3L242.5,432.3L243.2,432.3" fill="none" stroke="#1be41b" stroke-width="2.8" stroke-dasharray="6 2.6 1.4 2.6"/>
<path d="M28.0,407.0L28.8,406.9L29.5,406.7L30.2,406.4L31.0,406.1L31.8,405.7L32.5,405.3L33.2,404.8L34.0,404.2L34.8,403.7L35.5,403.1L36.2,402.5L37.0,401.9L37.8,401.1L38.5,400.2L39.2,399.2L40.0,398.1L40.8,397.0L41.5,395.8L42.2,394.6L43.0,393.2L43.8,391.8L44.5,390.3L45.2,388.8L46.0,387.3L46.8,385.8L47.5,384.3L48.2,382.7L49.0,381.0L49.8,379.1L50.5,377.1L51.2,375.0L52.0,372.8L52.8,370.6L53.5,368.2L54.2,365.7L55.0,363.2L55.8,360.7L56.5,358.4L57.2,356.3L58.0,354.5L58.8,352.7L59.5,351.1L60.2,349.5L61.0,347.9L61.8,346.2L62.5,344.5L63.2,342.6L64.0,340.4L64.8,338.2L65.5,336.2L66.2,334.6L67.0,333.3L67.8,332.0L68.5,331.0L69.2,330.2L70.0,329.7L70.8,329.2L71.5,328.8L72.2,328.5L73.0,328.4L73.8,328.5L74.5,328.8L75.2,329.3L76.0,330.0L76.8,330.7L77.5,331.5L78.2,332.3L79.0,333.3L79.8,334.4L80.5,335.7L81.2,337.1L82.0,338.6L82.8,340.4L83.5,342.8L84.2,345.5L85.0,348.2L85.8,350.7L86.5,352.8L87.2,354.7L88.0,356.6L88.8,358.5L89.5,360.5L90.2,362.6L91.0,364.7L91.8,366.9L92.5,369.1L93.2,371.3L94.0,373.6L94.8,376.0L95.5,378.3L96.2,380.6L97.0,383.0L97.8,385.4L98.5,387.8L99.2,390.2L100.0,392.4L100.8,394.6L101.5,396.6L102.2,398.7L103.0,400.7L103.8,402.6L104.5,404.4L105.2,406.1L106.0,407.6L106.8,408.8L107.5,410.0L108.2,411.0L109.0,412.0L109.8,413.0L110.5,413.8L111.2,414.7L112.0,415.4L112.8,416.2L113.5,416.8L114.2,417.4L115.0,418.0L115.8,418.6L116.5,419.1L117.2,419.6L118.0,420.1L118.8,420.5L119.5,420.9L120.2,421.3L121.0,421.7L121.8,422.0L122.5,422.4L123.2,422.7L124.0,423.0L124.8,423.3L125.5,423.6L126.2,423.9L127.0,424.2L127.8,424.4L128.5,424.7L129.2,424.9L130.0,425.2L130.8,425.4L131.5,425.6L132.2,425.8L133.0,426.0L133.8,426.1L134.5,426.3L135.2,426.4L136.0,426.6L136.8,426.7L137.5,426.8L138.2,426.9L139.0,427.1L139.8,427.2L140.5,427.3L141.2,427.4L142.0,427.5L142.8,427.6L143.5,427.7L144.2,427.8L145.0,427.9L145.8,428.0L146.5,428.1L147.2,428.2L148.0,428.3L148.8,428.4L149.5,428.5L150.2,428.5L151.0,428.6L151.8,428.7L152.5,428.8L153.2,428.9L154.0,429.0L154.8,429.0L155.5,429.1L156.2,429.2L157.0,429.3L157.8,429.3L158.5,429.4L159.2,429.4L160.0,429.5L160.8,429.6L161.5,429.6L162.2,429.7L163.0,429.7L163.8,429.8L164.5,429.8L165.2,429.9L166.0,429.9L166.8,430.0L167.5,430.0L168.2,430.1L169.0,430.1L169.8,430.2L170.5,430.2L171.2,430.2L172.0,430.3L172.8,430.3L173.5,430.4L174.2,430.4L175.0,430.5L175.8,430.5L176.5,430.5L177.2,430.6L178.0,430.6L178.8,430.7L179.5,430.7L180.2,430.7L181.0,430.8L181.8,430.8L182.5,430.8L183.2,430.9L184.0,430.9L184.8,431.0L185.5,431.0L186.2,431.0L187.0,431.0L187.8,431.1L188.5,431.1L189.2,431.1L190.0,431.2L190.8,431.2L191.5,431.2L192.2,431.3L193.0,431.3L193.8,431.3L194.5,431.3L195.2,431.4L196.0,431.4L196.8,431.4L197.5,431.4L198.2,431.5L199.0,431.5L199.8,431.5L200.5,431.5L201.2,431.5L202.0,431.6L202.8,431.6L203.5,431.6L204.2,431.6L205.0,431.6L205.8,431.7L206.5,431.7L207.2,431.7L208.0,431.7L208.8,431.7L209.5,431.8L210.2,431.8L211.0,431.8L211.8,431.8L212.5,431.8L213.2,431.8L214.0,431.9L214.8,431.9L215.5,431.9L216.2,431.9L217.0,431.9L217.8,432.0L218.5,432.0L219.2,432.0L220.0,432.0L220.8,432.0L221.5,432.0L222.2,432.0L223.0,432.1L223.8,432.1L224.5,432.1L225.2,432.1L226.0,432.1L226.8,432.1L227.5,432.1L228.2,432.2L229.0,432.2L229.8,432.2L230.5,432.2L231.2,432.2L232.0,432.2L232.8,432.2L233.5,432.2L234.2,432.2L235.0,432.2L235.8,432.3L236.5,432.3L237.2,432.3L238.0,432.3L238.8,432.3L239.5,432.3L240.2,432.3L241.0,432.3L241.8,432.3L242.5,432.3L243.2,432.3" fill="none" stroke="#1414f0" stroke-width="2.8" stroke-dasharray="6 2.6 1.4 2.6"/>
<path d="M28.0,404.1L28.8,404.0L29.5,403.8L30.2,403.6L31.0,403.3L31.8,402.9L32.5,402.5L33.2,402.1L34.0,401.6L34.8,401.1L35.5,400.5L36.2,400.0L37.0,399.4L37.8,398.8L38.5,398.1L39.2,397.3L40.0,396.4L40.8,395.4L41.5,394.3L42.2,393.2L43.0,392.0L43.8,390.8L44.5,389.6L45.2,388.3L46.0,386.9L46.8,385.4L47.5,383.8L48.2,382.2L49.0,380.5L49.8,378.8L50.5,377.0L51.2,375.2L52.0,373.4L52.8,371.6L53.5,369.8L54.2,368.0L55.0,366.1L55.8,364.2L56.5,362.2L57.2,360.3L58.0,358.3L58.8,356.3L59.5,354.3L60.2,352.2L61.0,349.9L61.8,347.6L62.5,345.3L63.2,343.0L64.0,340.8L64.8,338.8L65.5,337.0L66.2,335.5L67.0,334.1L67.8,332.7L68.5,331.3L69.2,330.0L70.0,328.9L70.8,328.0L71.5,327.3L72.2,326.9L73.0,326.9L73.8,327.0L74.5,327.3L75.2,327.6L76.0,327.9L76.8,328.3L77.5,328.7L78.2,329.1L79.0,329.7L79.8,330.5L80.5,331.3L81.2,332.2L82.0,332.9L82.8,333.5L83.5,333.9L84.2,334.0L85.0,334.0L85.8,333.9L86.5,333.8L87.2,333.7L88.0,333.5L88.8,333.1L89.5,332.3L90.2,331.3L91.0,330.0L91.8,328.6L92.5,327.2L93.2,325.9L94.0,324.7L94.8,323.3L95.5,321.9L96.2,320.5L97.0,319.0L97.8,317.6L98.5,316.3L99.2,315.1L100.0,313.8L100.8,312.4L101.5,311.4L102.2,311.0L103.0,311.6L103.8,312.9L104.5,314.7L105.2,316.7L106.0,319.5L106.8,322.9L107.5,326.5L108.2,330.4L109.0,334.7L109.8,339.3L110.5,344.6L111.2,350.4L112.0,356.0L112.8,361.3L113.5,366.6L114.2,371.9L115.0,376.9L115.8,381.6L116.5,386.0L117.2,390.1L118.0,394.2L118.8,398.2L119.5,401.8L120.2,405.1L121.0,407.9L121.8,410.1L122.5,412.0L123.2,413.7L124.0,415.3L124.8,416.6L125.5,417.6L126.2,418.4L127.0,418.9L127.8,419.3L128.5,419.7L129.2,420.1L130.0,420.4L130.8,420.7L131.5,420.9L132.2,421.2L133.0,421.4L133.8,421.6L134.5,421.8L135.2,422.1L136.0,422.3L136.8,422.5L137.5,422.8L138.2,423.0L139.0,423.2L139.8,423.4L140.5,423.7L141.2,423.9L142.0,424.1L142.8,424.3L143.5,424.5L144.2,424.7L145.0,424.8L145.8,425.0L146.5,425.2L147.2,425.4L148.0,425.6L148.8,425.8L149.5,426.0L150.2,426.1L151.0,426.3L151.8,426.5L152.5,426.7L153.2,426.8L154.0,427.0L154.8,427.2L155.5,427.3L156.2,427.4L157.0,427.6L157.8,427.7L158.5,427.8L159.2,427.9L160.0,428.0L160.8,428.1L161.5,428.2L162.2,428.2L163.0,428.3L163.8,428.4L164.5,428.5L165.2,428.6L166.0,428.6L166.8,428.7L167.5,428.8L168.2,428.9L169.0,428.9L169.8,429.0L170.5,429.1L171.2,429.1L172.0,429.2L172.8,429.2L173.5,429.3L174.2,429.4L175.0,429.4L175.8,429.5L176.5,429.5L177.2,429.6L178.0,429.7L178.8,429.7L179.5,429.8L180.2,429.8L181.0,429.9L181.8,429.9L182.5,430.0L183.2,430.0L184.0,430.0L184.8,430.1L185.5,430.1L186.2,430.2L187.0,430.2L187.8,430.3L188.5,430.3L189.2,430.3L190.0,430.4L190.8,430.4L191.5,430.5L192.2,430.5L193.0,430.5L193.8,430.6L194.5,430.6L195.2,430.6L196.0,430.6L196.8,430.7L197.5,430.7L198.2,430.7L199.0,430.8L199.8,430.8L200.5,430.8L201.2,430.8L202.0,430.9L202.8,430.9L203.5,430.9L204.2,430.9L205.0,431.0L205.8,431.0L206.5,431.0L207.2,431.0L208.0,431.1L208.8,431.1L209.5,431.1L210.2,431.1L211.0,431.2L211.8,431.2L212.5,431.2L213.2,431.2L214.0,431.3L214.8,431.3L215.5,431.3L216.2,431.3L217.0,431.4L217.8,431.4L218.5,431.4L219.2,431.4L220.0,431.4L220.8,431.5L221.5,431.5L222.2,431.5L223.0,431.5L223.8,431.5L224.5,431.6L225.2,431.6L226.0,431.6L226.8,431.6L227.5,431.6L228.2,431.6L229.0,431.7L229.8,431.7L230.5,431.7L231.2,431.7L232.0,431.7L232.8,431.7L233.5,431.7L234.2,431.7L235.0,431.7L235.8,431.8L236.5,431.8L237.2,431.8L238.0,431.8L238.8,431.8L239.5,431.8L240.2,431.8L241.0,431.8L241.8,431.8L242.5,431.8L243.2,431.8" fill="none" stroke="#000" stroke-width="2.8" stroke-dasharray="6 2.6 1.4 2.6"/>
<path d="M28.0,401.2L28.8,400.0L29.5,398.8L30.2,397.6L31.0,396.5L31.8,395.4L32.5,394.3L33.2,393.2L34.0,392.1L34.8,391.1L35.5,390.1L36.2,389.2L37.0,388.2L37.8,387.3L38.5,386.4L39.2,385.5L40.0,384.7L40.8,383.8L41.5,382.9L42.2,382.0L43.0,381.0L43.8,380.0L44.5,378.8L45.2,377.6L46.0,376.3L46.8,375.0L47.5,373.8L48.2,372.6L49.0,371.6L49.8,370.7L50.5,369.9L51.2,369.2L52.0,368.5L52.8,367.6L53.5,366.6L54.2,365.4L55.0,364.2L55.8,362.7L56.5,361.1L57.2,359.1L58.0,356.8L58.8,354.4L59.5,351.9L60.2,349.5L61.0,347.0L61.8,344.4L62.5,341.8L63.2,339.1L64.0,335.9L64.8,332.5L65.5,329.1L66.2,326.1L67.0,323.8L67.8,322.4L68.5,321.3L69.2,320.3L70.0,319.4L70.8,318.8L71.5,318.5L72.2,318.6L73.0,319.3L73.8,320.4L74.5,321.8L75.2,323.3L76.0,324.6L76.8,325.7L77.5,326.7L78.2,327.8L79.0,328.8L79.8,329.7L80.5,330.4L81.2,330.7L82.0,330.8L82.8,330.9L83.5,330.9L84.2,330.8L85.0,330.6L85.8,330.3L86.5,329.8L87.2,329.3L88.0,328.6L88.8,327.7L89.5,326.7L90.2,325.5L91.0,324.3L91.8,323.0L92.5,321.8L93.2,320.6L94.0,319.2L94.8,317.8L95.5,316.4L96.2,314.9L97.0,313.6L97.8,312.3L98.5,311.1L99.2,309.9L100.0,308.6L100.8,307.5L101.5,306.7L102.2,306.4L103.0,307.4L103.8,309.7L104.5,312.7L105.2,315.6L106.0,318.7L106.8,322.3L107.5,326.0L108.2,329.9L109.0,334.1L109.8,338.6L110.5,343.8L111.2,349.5L112.0,355.0L112.8,360.2L113.5,365.2L114.2,370.2L115.0,375.1L115.8,380.0L116.5,385.0L117.2,390.3L118.0,394.3L118.8,397.6L119.5,400.5L120.2,403.0L121.0,405.0L121.8,406.6L122.5,407.8L123.2,409.0L124.0,410.0L124.8,411.0L125.5,411.8L126.2,412.5L127.0,413.2L127.8,413.8L128.5,414.3L129.2,414.8L130.0,415.3L130.8,415.7L131.5,416.0L132.2,416.4L133.0,416.7L133.8,417.0L134.5,417.3L135.2,417.6L136.0,417.9L136.8,418.2L137.5,418.4L138.2,418.7L139.0,419.0L139.8,419.3L140.5,419.6L141.2,419.9L142.0,420.1L142.8,420.4L143.5,420.7L144.2,420.9L145.0,421.2L145.8,421.5L146.5,421.7L147.2,421.9L148.0,422.1L148.8,422.3L149.5,422.5L150.2,422.7L151.0,422.9L151.8,423.0L152.5,423.2L153.2,423.4L154.0,423.5L154.8,423.7L155.5,423.8L156.2,423.9L157.0,424.0L157.8,424.2L158.5,424.3L159.2,424.4L160.0,424.5L160.8,424.6L161.5,424.7L162.2,424.8L163.0,424.9L163.8,425.0L164.5,425.1L165.2,425.2L166.0,425.3L166.8,425.4L167.5,425.5L168.2,425.6L169.0,425.6L169.8,425.7L170.5,425.8L171.2,425.9L172.0,426.0L172.8,426.0L173.5,426.1L174.2,426.2L175.0,426.2L175.8,426.3L176.5,426.3L177.2,426.4L178.0,426.4L178.8,426.5L179.5,426.5L180.2,426.5L181.0,426.5L181.8,426.6L182.5,426.6L183.2,426.6L184.0,426.6L184.8,426.6L185.5,426.7L186.2,426.7L187.0,426.7L187.8,426.7L188.5,426.7L189.2,426.7L190.0,426.8L190.8,426.8L191.5,426.8L192.2,426.8L193.0,426.8L193.8,426.8L194.5,426.8L195.2,426.8L196.0,426.8L196.8,426.8L197.5,426.7L198.2,426.7L199.0,426.6L199.8,426.6L200.5,426.5L201.2,426.4L202.0,426.4L202.8,426.3L203.5,426.2L204.2,426.2L205.0,426.1L205.8,426.1L206.5,426.0L207.2,426.0L208.0,426.0L208.8,426.0L209.5,426.0L210.2,426.1L211.0,426.1L211.8,426.2L212.5,426.3L213.2,426.5L214.0,426.6L214.8,426.7L215.5,426.9L216.2,427.0L217.0,427.2L217.8,427.3L218.5,427.5L219.2,427.6L220.0,427.7L220.8,427.9L221.5,428.0L222.2,428.1L223.0,428.1L223.8,428.2L224.5,428.3L225.2,428.3L226.0,428.4L226.8,428.5L227.5,428.5L228.2,428.6L229.0,428.6L229.8,428.7L230.5,428.8L231.2,428.8L232.0,428.9L232.8,428.9L233.5,429.0L234.2,429.0L235.0,429.1L235.8,429.1L236.5,429.2L237.2,429.2L238.0,429.2L238.8,429.3L239.5,429.3L240.2,429.3L241.0,429.4L241.8,429.4L242.5,429.4L243.2,429.4" fill="none" stroke="#f5090c" stroke-width="3.8" stroke-linejoin="round"/>
<polyline points="326.6,271.2 350.7,273.2 374.7,274.0 400.2,276.0 424.3,281.6 448.4,282.4 472.5,285.2 496.6,286.4 510.7,287.2 520.6,289.2" fill="none" stroke="#14e014" stroke-width="2"/>
<circle cx="326.6" cy="271.2" r="2.7" fill="#fff" stroke="#14e014" stroke-width="1.3"/><circle cx="326.6" cy="271.2" r="0.6" fill="#14e014"/>
<circle cx="350.7" cy="273.2" r="2.7" fill="#fff" stroke="#14e014" stroke-width="1.3"/><circle cx="350.7" cy="273.2" r="0.6" fill="#14e014"/>
<circle cx="374.7" cy="274" r="2.7" fill="#fff" stroke="#14e014" stroke-width="1.3"/><circle cx="374.7" cy="274" r="0.6" fill="#14e014"/>
<circle cx="400.2" cy="276" r="2.7" fill="#fff" stroke="#14e014" stroke-width="1.3"/><circle cx="400.2" cy="276" r="0.6" fill="#14e014"/>
<circle cx="424.3" cy="281.6" r="2.7" fill="#fff" stroke="#14e014" stroke-width="1.3"/><circle cx="424.3" cy="281.6" r="0.6" fill="#14e014"/>
<circle cx="448.4" cy="282.4" r="2.7" fill="#fff" stroke="#14e014" stroke-width="1.3"/><circle cx="448.4" cy="282.4" r="0.6" fill="#14e014"/>
<circle cx="472.5" cy="285.2" r="2.7" fill="#fff" stroke="#14e014" stroke-width="1.3"/><circle cx="472.5" cy="285.2" r="0.6" fill="#14e014"/>
<circle cx="496.6" cy="286.4" r="2.7" fill="#fff" stroke="#14e014" stroke-width="1.3"/><circle cx="496.6" cy="286.4" r="0.6" fill="#14e014"/>
<circle cx="510.7" cy="287.2" r="2.7" fill="#fff" stroke="#14e014" stroke-width="1.3"/><circle cx="510.7" cy="287.2" r="0.6" fill="#14e014"/>
<circle cx="520.6" cy="289.2" r="2.7" fill="#fff" stroke="#14e014" stroke-width="1.3"/><circle cx="520.6" cy="289.2" r="0.6" fill="#14e014"/>
<polyline points="326.6,376.0 350.7,377.6 374.7,379.2 400.2,381.2 424.3,383.2 448.4,381.2 472.5,382.8 496.6,382.8 510.7,384.8 520.6,384.8" fill="none" stroke="#1414e6" stroke-width="2"/>
<rect x="324.1" y="373.5" width="5" height="5" fill="#fff" stroke="#1414e6" stroke-width="1.3"/><circle cx="326.6" cy="376" r="0.6" fill="#1414e6"/>
<rect x="348.2" y="375.1" width="5" height="5" fill="#fff" stroke="#1414e6" stroke-width="1.3"/><circle cx="350.7" cy="377.6" r="0.6" fill="#1414e6"/>
<rect x="372.2" y="376.7" width="5" height="5" fill="#fff" stroke="#1414e6" stroke-width="1.3"/><circle cx="374.7" cy="379.2" r="0.6" fill="#1414e6"/>
<rect x="397.7" y="378.7" width="5" height="5" fill="#fff" stroke="#1414e6" stroke-width="1.3"/><circle cx="400.2" cy="381.2" r="0.6" fill="#1414e6"/>
<rect x="421.8" y="380.7" width="5" height="5" fill="#fff" stroke="#1414e6" stroke-width="1.3"/><circle cx="424.3" cy="383.2" r="0.6" fill="#1414e6"/>
<rect x="445.9" y="378.7" width="5" height="5" fill="#fff" stroke="#1414e6" stroke-width="1.3"/><circle cx="448.4" cy="381.2" r="0.6" fill="#1414e6"/>
<rect x="470.0" y="380.3" width="5" height="5" fill="#fff" stroke="#1414e6" stroke-width="1.3"/><circle cx="472.5" cy="382.8" r="0.6" fill="#1414e6"/>
<rect x="494.1" y="380.3" width="5" height="5" fill="#fff" stroke="#1414e6" stroke-width="1.3"/><circle cx="496.6" cy="382.8" r="0.6" fill="#1414e6"/>
<rect x="508.2" y="382.3" width="5" height="5" fill="#fff" stroke="#1414e6" stroke-width="1.3"/><circle cx="510.7" cy="384.8" r="0.6" fill="#1414e6"/>
<rect x="518.1" y="382.3" width="5" height="5" fill="#fff" stroke="#1414e6" stroke-width="1.3"/><circle cx="520.6" cy="384.8" r="0.6" fill="#1414e6"/>
<line x1="461" y1="307.7" x2="495" y2="307.7" stroke="#14e014" stroke-width="2"/><circle cx="478" cy="307.7" r="2.7" fill="#fff" stroke="#14e014" stroke-width="1.3"/><circle cx="478" cy="307.7" r="0.6" fill="#14e014"/>
<text x="497.5" y="312.5" style="fill:#14e014">TO</text>
<line x1="463" y1="403.3" x2="496" y2="403.3" stroke="#1414e6" stroke-width="2"/><rect x="476.7" y="400.8" width="5" height="5" fill="#fff" stroke="#1414e6" stroke-width="1.3"/><circle cx="479.2" cy="403.3" r="0.6" fill="#1414e6"/>
<text x="499.3" y="408" style="fill:#1414e6">NP</text>
<rect x="28" y="8" width="217" height="188" fill="none" stroke="#000" stroke-width="1.7"/>
<rect x="312" y="8" width="217" height="188" fill="none" stroke="#000" stroke-width="1.7"/>
<rect x="28" y="246" width="217" height="188" fill="none" stroke="#000" stroke-width="1.7"/>
<rect x="312" y="246" width="217" height="188" fill="none" stroke="#000" stroke-width="1.7"/>
<text x="71.4" y="213.8" text-anchor="middle">1400</text>
<text x="129.3" y="213.8" text-anchor="middle">1600</text>
<text x="187.1" y="213.8" text-anchor="middle">1800</text>
<text x="245.0" y="213.8" text-anchor="middle">2000</text>
<text x="136.5" y="229.8" text-anchor="middle">Wavelength (nm)</text>
<text transform="translate(17.6 102.0) rotate(-90)" x="0" y="0" text-anchor="middle">Intensity (a.u.)</text>
<text x="355.4" y="213.8" text-anchor="middle">1400</text>
<text x="413.3" y="213.8" text-anchor="middle">1600</text>
<text x="471.1" y="213.8" text-anchor="middle">1800</text>
<text x="529.0" y="213.8" text-anchor="middle">2000</text>
<text x="420.5" y="229.8" text-anchor="middle">Wavelength (nm)</text>
<text transform="translate(302 102.0) rotate(-90)" x="0" y="0" text-anchor="middle">Intensity (a.u.)</text>
<text x="71.4" y="451.8" text-anchor="middle">1400</text>
<text x="129.3" y="451.8" text-anchor="middle">1600</text>
<text x="187.1" y="451.8" text-anchor="middle">1800</text>
<text x="245.0" y="451.8" text-anchor="middle">2000</text>
<text x="136.5" y="467.8" text-anchor="middle">Wavelength (nm)</text>
<text transform="translate(17.6 340.0) rotate(-90)" x="0" y="0" text-anchor="middle">Intensity (a.u.)</text>
<text x="368.4" y="452.5" text-anchor="middle">10</text>
<text x="448.4" y="452.5" text-anchor="middle">100</text>
<text x="528.4" y="452.5" text-anchor="middle">1000</text>
<text x="304.5" y="438.7" text-anchor="end">1350</text>
<text x="304.5" y="391.7" text-anchor="end">1400</text>
<text x="304.5" y="344.7" text-anchor="end">1450</text>
<text x="304.5" y="297.7" text-anchor="end">1500</text>
<text x="304.5" y="250.7" text-anchor="end">1550</text>
<text x="420.5" y="467.5" text-anchor="middle">Power (mW)</text>
<text transform="translate(272.3 340.0) rotate(-90)" x="0" y="0" text-anchor="middle">Wavelength (nm)</text>
<path d="M42.5,196v2.5M71.4,196v4M100.3,196v2.5M129.3,196v4M158.2,196v2.5M187.1,196v4M216.1,196v2.5M245.0,196v4M326.5,196v2.5M355.4,196v4M384.3,196v2.5M413.3,196v4M442.2,196v2.5M471.1,196v4M500.1,196v2.5M529.0,196v4M42.5,434v2.5M71.4,434v4M100.3,434v2.5M129.3,434v4M158.2,434v2.5M187.1,434v4M216.1,434v2.5M245.0,434v4M312.5,434v2.5M326.6,434v2.5M336.6,434v2.5M344.3,434v2.5M350.7,434v2.5M356.0,434v2.5M360.6,434v2.5M364.7,434v2.5M368.4,434v4M392.5,434v2.5M406.6,434v2.5M416.6,434v2.5M424.3,434v2.5M430.7,434v2.5M436.0,434v2.5M440.6,434v2.5M444.7,434v2.5M448.4,434v4M472.5,434v2.5M486.6,434v2.5M496.6,434v2.5M504.3,434v2.5M510.7,434v2.5M516.0,434v2.5M520.6,434v2.5M524.7,434v2.5M528.4,434v4M312,434.0h-4M312,410.5h-2.5M312,387.0h-4M312,363.5h-2.5M312,340.0h-4M312,316.5h-2.5M312,293.0h-4M312,269.5h-2.5M312,246.0h-4" stroke="#000" stroke-width="1.5" fill="none"/>
<text x="5" y="17" style="font-size:13.5px">(a)</text>
<text x="260.5" y="17.5" style="font-size:13.5px">(b)</text>
<text x="4.5" y="254" style="font-size:13.5px">(c)</text>
<text x="256.5" y="254" style="font-size:13.5px">(d)</text>
<circle cx="171.2" cy="16.5" r="2.5" fill="url(#g0)"/>
<text x="187.2" y="21.1">800mW</text>
<circle cx="171.2" cy="31.1" r="2.5" fill="url(#g1)"/>
<text x="187.2" y="35.6">600mW</text>
<circle cx="171.2" cy="45.6" r="2.5" fill="url(#g2)"/>
<text x="187.2" y="50.2">400mW</text>
<circle cx="171.2" cy="60.2" r="2.5" fill="url(#g3)"/>
<text x="187.2" y="64.8">200mW</text>
<circle cx="171.2" cy="74.7" r="2.5" fill="url(#g4)"/>
<text x="187.2" y="79.3">100mW</text>
<circle cx="171.2" cy="89.2" r="2.5" fill="url(#g5)"/>
<text x="187.2" y="93.8">50mW</text>
<circle cx="171.2" cy="103.8" r="2.5" fill="url(#g6)"/>
<text x="187.2" y="108.4">25mW</text>
<circle cx="171.2" cy="118.4" r="2.5" fill="url(#g7)"/>
<text x="187.2" y="123.0">12mW</text>
<circle cx="171.2" cy="132.9" r="2.5" fill="url(#g8)"/>
<text x="187.2" y="137.5">6mW</text>
<circle cx="171.2" cy="147.5" r="2.5" fill="url(#g9)"/>
<text x="187.2" y="152.1">3mW</text>
<circle cx="469.4" cy="16.2" r="2.5" fill="url(#g10)"/>
<text x="485.6" y="20.8">16K</text>
<circle cx="469.4" cy="30.7" r="2.5" fill="url(#g11)"/>
<text x="485.6" y="35.3">30K</text>
<circle cx="469.4" cy="45.2" r="2.5" fill="url(#g12)"/>
<text x="485.6" y="49.8">45K</text>
<circle cx="469.4" cy="59.8" r="2.5" fill="url(#g13)"/>
<text x="485.6" y="64.4">60K</text>
<circle cx="469.4" cy="74.3" r="2.5" fill="url(#g14)"/>
<text x="485.6" y="78.9">80K</text>
<circle cx="469.4" cy="88.8" r="2.5" fill="url(#g15)"/>
<text x="485.6" y="93.4">100K</text>
<circle cx="469.4" cy="103.3" r="2.5" fill="url(#g16)"/>
<text x="485.6" y="107.9">125K</text>
<circle cx="469.4" cy="117.8" r="2.5" fill="url(#g17)"/>
<text x="485.6" y="122.4">150K</text>
<circle cx="469.4" cy="132.4" r="2.5" fill="url(#g18)"/>
<text x="485.6" y="137.0">175K</text>
<circle cx="469.4" cy="146.9" r="2.5" fill="url(#g19)"/>
<text x="485.6" y="151.5">200K</text>
<circle cx="469.4" cy="161.4" r="2.5" fill="url(#g20)"/>
<text x="485.6" y="166.0">250K</text>
<circle cx="469.4" cy="175.9" r="2.5" fill="url(#g21)"/>
<text x="485.6" y="180.5">300K</text>
<text x="72" y="311.5" text-anchor="middle" style="fill:#1414f0">NP</text>
<text x="104" y="300.7" text-anchor="middle" style="fill:#1be41b">TO</text>
<text x="210.8" y="287.5" text-anchor="middle" style="fill:#f5090c">800mW</text>
</svg></body></html>
